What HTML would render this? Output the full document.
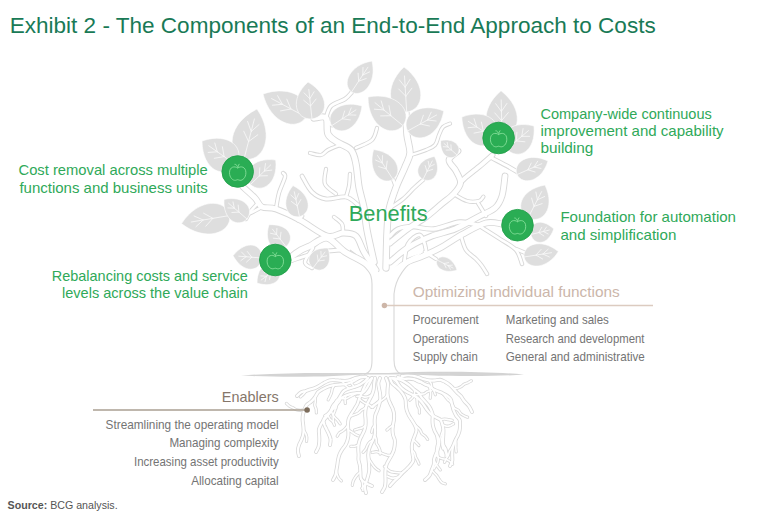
<!DOCTYPE html><html><head><meta charset="utf-8"><style>html,body{margin:0;padding:0;background:#fff}svg{display:block}</style></head><body><svg width="768" height="522" viewBox="0 0 768 522" font-family="Liberation Sans">
<rect width="768" height="522" fill="#fff"/>
<g fill="none" stroke="#d8d8d8" stroke-linecap="round" stroke-linejoin="round"><path d="M376,270C374.0,267.0 367.3,257.7 364,252C360.7,246.3 359.5,239.2 356,236C352.5,232.8 347.8,233.0 343,233C338.2,233.0 334.2,238.2 327,236C319.8,233.8 308.5,224.5 300,220C291.5,215.5 282.3,211.2 276,209C269.7,206.8 265.5,208.8 262,207C258.5,205.2 258.2,201.3 255,198C251.8,194.7 245.0,188.8 243,187" stroke-width="6.8"/><path d="M276,209C276.5,206.3 277.5,198.3 279,193C280.5,187.7 284.3,180.3 285,177C285.7,173.7 283.3,173.7 283,173" stroke-width="4.4"/><path d="M258,203C256.7,204.5 252.0,209.3 250,212C248.0,214.7 246.7,217.8 246,219" stroke-width="4.4"/><path d="M262,207C259.2,208.3 250.3,213.7 245,215C239.7,216.3 232.5,215.0 230,215" stroke-width="4.4"/><path d="M298,220L302,216" stroke-width="4.8"/><path d="M378,280C376.0,277.3 371.5,268.7 366,264C360.5,259.3 351.5,256.3 345,252C338.5,247.7 332.8,239.0 327,238C321.2,237.0 314.3,244.0 310,246C305.7,248.0 304.2,248.2 301,250C297.8,251.8 292.7,255.8 291,257" stroke-width="7.3"/><path d="M340,250C336.7,250.3 326.8,250.7 320,252C313.2,253.3 304.3,256.3 299,258C293.7,259.7 289.8,261.3 288,262" stroke-width="4.8"/><path d="M334,217C335.3,218.2 340.5,221.3 342,224C343.5,226.7 342.8,231.5 343,233" stroke-width="4.4"/><path d="M313,248C311.7,250.3 305.2,258.7 305,262C304.8,265.3 310.8,267.0 312,268" stroke-width="4.4"/><path d="M374,262C372.8,256.7 368.7,239.0 367,230C365.3,221.0 365.3,215.2 364,208C362.7,200.8 360.3,194.3 359,187C357.7,179.7 357.3,170.2 356,164C354.7,157.8 354.2,153.7 351,150C347.8,146.3 340.8,144.7 337,142C333.2,139.3 329.8,138.0 328,134C326.2,130.0 328.3,120.7 326,118C323.7,115.3 316.0,118.0 314,118" stroke-width="7.3"/><path d="M326,120L332,125" stroke-width="4.8"/><path d="M326,118C326.8,116.0 327.8,109.2 331,106C334.2,102.8 341.5,101.3 345,99C348.5,96.7 350.8,93.2 352,92" stroke-width="4.6"/><path d="M340,145C338.0,145.8 331.2,148.3 328,150C324.8,151.7 324.0,154.5 321,155C318.0,155.5 311.8,153.3 310,153" stroke-width="4.3"/><path d="M356,148C358.7,146.7 368.5,143.3 372,140C375.5,136.7 376.2,130.0 377,128" stroke-width="4.3"/><path d="M358,205C356.0,203.7 351.3,198.0 346,197C340.7,196.0 331.7,199.8 326,199C320.3,198.2 316.0,195.8 312,192C308.0,188.2 303.7,178.7 302,176" stroke-width="4.8"/><path d="M346,197C346.5,195.2 348.3,189.8 349,186C349.7,182.2 349.8,176.0 350,174" stroke-width="4.3"/><path d="M336,194C334.2,192.3 326.7,188.2 325,184C323.3,179.8 325.8,171.5 326,169" stroke-width="4.3"/><path d="M386,268C386.2,262.2 386.5,242.7 387,233C387.5,223.3 387.5,217.6 389,210C390.5,202.4 393.3,194.7 396,187.5C398.7,180.3 402.7,172.8 405,167C407.3,161.2 409.7,158.3 410,153C410.3,147.7 407.7,141.7 407,135C406.3,128.3 406.2,116.7 406,113" stroke-width="7.3"/><path d="M411,155C413.5,154.2 422.0,151.7 426,150C430.0,148.3 432.8,147.5 435,145C437.2,142.5 437.7,138.0 439,135C440.3,132.0 441.2,128.9 443,127C444.8,125.1 448.8,124.2 450,123.6" stroke-width="4.2"/><path d="M396,187L393,179" stroke-width="4.4"/><path d="M390,208C392.2,206.5 399.0,202.3 403,199C407.0,195.7 410.7,191.2 414,188C417.3,184.8 421.5,181.3 423,180" stroke-width="4.4"/><path d="M390,243C392.9,240.7 401.6,233.3 407.6,229C413.6,224.7 420.3,221.2 426,217C431.7,212.8 437.4,207.4 442,203.6C446.6,199.8 450.5,197.4 453.6,194C456.7,190.6 460.1,186.8 460.5,183C460.9,179.2 457.9,174.8 456,171C454.1,167.2 448.7,163.3 449,160C449.3,156.7 456.5,152.5 458,151" stroke-width="6.8"/><path d="M460,183C460.8,182.2 461.8,180.7 465,178C468.2,175.3 474.4,170.6 479,166.8C483.6,163.0 490.3,157.0 492.6,155" stroke-width="5.8"/><path d="M492,158C494.8,159.5 504.4,164.4 508.7,166.8C513.0,169.2 516.5,171.6 518,172.5" stroke-width="4.8"/><path d="M453.6,194C455.8,195.2 462.8,199.8 467,201C471.2,202.2 476.3,201.7 479,201C481.7,200.3 482.7,197.4 483.4,196.7" stroke-width="4.3"/><path d="M390,262C393.2,259.5 402.0,251.3 409,247C416.0,242.7 424.3,239.0 432,236C439.7,233.0 447.3,232.2 455,229C462.7,225.8 471.3,220.5 478,217C484.7,213.5 491.0,211.5 495,208C499.0,204.5 500.3,201.3 502,196C503.7,190.7 504.5,179.3 505,176" stroke-width="6.8"/><path d="M478,203L486,216" stroke-width="4.4"/><path d="M388,280C390.7,277.3 398.2,268.0 404,264C409.8,260.0 417.0,258.7 423,256C429.0,253.3 433.3,251.7 440,248C446.7,244.3 455.3,238.2 463,234C470.7,229.8 479.5,224.7 486,223C492.5,221.3 499.3,223.8 502,224" stroke-width="6.8"/><path d="M481,227C484.2,229.0 494.2,235.2 500,239C505.8,242.8 512.3,245.8 516,250C519.7,254.2 521.0,261.7 522,264" stroke-width="4.4"/><path d="M461,236C461.8,238.3 463.5,246.2 466,250C468.5,253.8 473.3,256.3 476,259C478.7,261.7 480.2,263.5 482,266C483.8,268.5 486.2,272.7 487,274" stroke-width="4.4"/><path d="M436,259L425,252" stroke-width="4.4"/><path d="M516,249L528,254" stroke-width="4.4"/><path d="M390,236C391.3,234.8 394.3,230.6 398,229C401.7,227.4 406.0,226.6 412,226.6C418.0,226.6 426.0,229.8 434,229C442.0,228.2 452.2,222.5 460,222C467.8,221.5 477.5,225.3 481,226" stroke-width="5.3"/><path d="M404,264C404.7,260.7 405.3,248.8 408,244C410.7,239.2 417.0,234.0 420,235C423.0,236.0 425.5,246.5 426,250C426.5,253.5 423.5,255.0 423,256" stroke-width="4.6"/></g>
<path d="M364,374.5 C370,373 372,369 372,360 L372,284 C372,272 364,260 350,250 C362,258 374,268 383,276 C392,268 410,256 428,250 C414,258 396,272 394,294 L394,360 C394,369 397,373 402,374.5 Z" fill="#fff"/>
<path d="M364,374.5 C370,373 372,369 372,360 L372,284 C372,272 364,260 350,250 M428,250 C414,258 396,272 394,294 L394,360 C394,369 397,373 402,374.5" fill="none" stroke="#d8d8d8" stroke-width="1.1"/>
<g fill="none" stroke="#fff" stroke-linecap="round" stroke-linejoin="round"><path d="M376,270C374.0,267.0 367.3,257.7 364,252C360.7,246.3 359.5,239.2 356,236C352.5,232.8 347.8,233.0 343,233C338.2,233.0 334.2,238.2 327,236C319.8,233.8 308.5,224.5 300,220C291.5,215.5 282.3,211.2 276,209C269.7,206.8 265.5,208.8 262,207C258.5,205.2 258.2,201.3 255,198C251.8,194.7 245.0,188.8 243,187" stroke-width="5.0"/><path d="M276,209C276.5,206.3 277.5,198.3 279,193C280.5,187.7 284.3,180.3 285,177C285.7,173.7 283.3,173.7 283,173" stroke-width="2.6"/><path d="M258,203C256.7,204.5 252.0,209.3 250,212C248.0,214.7 246.7,217.8 246,219" stroke-width="2.6"/><path d="M262,207C259.2,208.3 250.3,213.7 245,215C239.7,216.3 232.5,215.0 230,215" stroke-width="2.6"/><path d="M298,220L302,216" stroke-width="3.0"/><path d="M378,280C376.0,277.3 371.5,268.7 366,264C360.5,259.3 351.5,256.3 345,252C338.5,247.7 332.8,239.0 327,238C321.2,237.0 314.3,244.0 310,246C305.7,248.0 304.2,248.2 301,250C297.8,251.8 292.7,255.8 291,257" stroke-width="5.5"/><path d="M340,250C336.7,250.3 326.8,250.7 320,252C313.2,253.3 304.3,256.3 299,258C293.7,259.7 289.8,261.3 288,262" stroke-width="3.0"/><path d="M334,217C335.3,218.2 340.5,221.3 342,224C343.5,226.7 342.8,231.5 343,233" stroke-width="2.6"/><path d="M313,248C311.7,250.3 305.2,258.7 305,262C304.8,265.3 310.8,267.0 312,268" stroke-width="2.6"/><path d="M374,262C372.8,256.7 368.7,239.0 367,230C365.3,221.0 365.3,215.2 364,208C362.7,200.8 360.3,194.3 359,187C357.7,179.7 357.3,170.2 356,164C354.7,157.8 354.2,153.7 351,150C347.8,146.3 340.8,144.7 337,142C333.2,139.3 329.8,138.0 328,134C326.2,130.0 328.3,120.7 326,118C323.7,115.3 316.0,118.0 314,118" stroke-width="5.5"/><path d="M326,120L332,125" stroke-width="3.0"/><path d="M326,118C326.8,116.0 327.8,109.2 331,106C334.2,102.8 341.5,101.3 345,99C348.5,96.7 350.8,93.2 352,92" stroke-width="2.8"/><path d="M340,145C338.0,145.8 331.2,148.3 328,150C324.8,151.7 324.0,154.5 321,155C318.0,155.5 311.8,153.3 310,153" stroke-width="2.5"/><path d="M356,148C358.7,146.7 368.5,143.3 372,140C375.5,136.7 376.2,130.0 377,128" stroke-width="2.5"/><path d="M358,205C356.0,203.7 351.3,198.0 346,197C340.7,196.0 331.7,199.8 326,199C320.3,198.2 316.0,195.8 312,192C308.0,188.2 303.7,178.7 302,176" stroke-width="3.0"/><path d="M346,197C346.5,195.2 348.3,189.8 349,186C349.7,182.2 349.8,176.0 350,174" stroke-width="2.5"/><path d="M336,194C334.2,192.3 326.7,188.2 325,184C323.3,179.8 325.8,171.5 326,169" stroke-width="2.5"/><path d="M386,268C386.2,262.2 386.5,242.7 387,233C387.5,223.3 387.5,217.6 389,210C390.5,202.4 393.3,194.7 396,187.5C398.7,180.3 402.7,172.8 405,167C407.3,161.2 409.7,158.3 410,153C410.3,147.7 407.7,141.7 407,135C406.3,128.3 406.2,116.7 406,113" stroke-width="5.5"/><path d="M411,155C413.5,154.2 422.0,151.7 426,150C430.0,148.3 432.8,147.5 435,145C437.2,142.5 437.7,138.0 439,135C440.3,132.0 441.2,128.9 443,127C444.8,125.1 448.8,124.2 450,123.6" stroke-width="2.4"/><path d="M396,187L393,179" stroke-width="2.6"/><path d="M390,208C392.2,206.5 399.0,202.3 403,199C407.0,195.7 410.7,191.2 414,188C417.3,184.8 421.5,181.3 423,180" stroke-width="2.6"/><path d="M390,243C392.9,240.7 401.6,233.3 407.6,229C413.6,224.7 420.3,221.2 426,217C431.7,212.8 437.4,207.4 442,203.6C446.6,199.8 450.5,197.4 453.6,194C456.7,190.6 460.1,186.8 460.5,183C460.9,179.2 457.9,174.8 456,171C454.1,167.2 448.7,163.3 449,160C449.3,156.7 456.5,152.5 458,151" stroke-width="5.0"/><path d="M460,183C460.8,182.2 461.8,180.7 465,178C468.2,175.3 474.4,170.6 479,166.8C483.6,163.0 490.3,157.0 492.6,155" stroke-width="4.0"/><path d="M492,158C494.8,159.5 504.4,164.4 508.7,166.8C513.0,169.2 516.5,171.6 518,172.5" stroke-width="3.0"/><path d="M453.6,194C455.8,195.2 462.8,199.8 467,201C471.2,202.2 476.3,201.7 479,201C481.7,200.3 482.7,197.4 483.4,196.7" stroke-width="2.5"/><path d="M390,262C393.2,259.5 402.0,251.3 409,247C416.0,242.7 424.3,239.0 432,236C439.7,233.0 447.3,232.2 455,229C462.7,225.8 471.3,220.5 478,217C484.7,213.5 491.0,211.5 495,208C499.0,204.5 500.3,201.3 502,196C503.7,190.7 504.5,179.3 505,176" stroke-width="5.0"/><path d="M478,203L486,216" stroke-width="2.6"/><path d="M388,280C390.7,277.3 398.2,268.0 404,264C409.8,260.0 417.0,258.7 423,256C429.0,253.3 433.3,251.7 440,248C446.7,244.3 455.3,238.2 463,234C470.7,229.8 479.5,224.7 486,223C492.5,221.3 499.3,223.8 502,224" stroke-width="5.0"/><path d="M481,227C484.2,229.0 494.2,235.2 500,239C505.8,242.8 512.3,245.8 516,250C519.7,254.2 521.0,261.7 522,264" stroke-width="2.6"/><path d="M461,236C461.8,238.3 463.5,246.2 466,250C468.5,253.8 473.3,256.3 476,259C478.7,261.7 480.2,263.5 482,266C483.8,268.5 486.2,272.7 487,274" stroke-width="2.6"/><path d="M436,259L425,252" stroke-width="2.6"/><path d="M516,249L528,254" stroke-width="2.6"/><path d="M390,236C391.3,234.8 394.3,230.6 398,229C401.7,227.4 406.0,226.6 412,226.6C418.0,226.6 426.0,229.8 434,229C442.0,228.2 452.2,222.5 460,222C467.8,221.5 477.5,225.3 481,226" stroke-width="3.5"/><path d="M404,264C404.7,260.7 405.3,248.8 408,244C410.7,239.2 417.0,234.0 420,235C423.0,236.0 425.5,246.5 426,250C426.5,253.5 423.5,255.0 423,256" stroke-width="2.8"/></g>
<g fill="none" stroke="#d8d8d8" stroke-linecap="round" stroke-linejoin="round"><path d="M366,377C365.1,377.1 362.2,376.8 360.5,377.3C358.8,377.8 357.2,379.0 355.6,379.9C354.0,380.8 352.4,381.8 350.7,382.5C349.0,383.2 347.4,383.8 345.6,384.1C343.9,384.4 342.1,384.3 340.2,384.5C338.3,384.7 336.1,384.9 334.2,385.2C332.2,385.5 330.4,385.9 328.5,386.5C326.6,387.1 324.8,388.0 323.1,388.9C321.4,389.8 319.5,390.7 318.1,392.1C316.8,393.5 316.2,395.6 315.0,397.2C313.8,398.8 312.5,400.4 311.1,401.7C309.7,403.0 307.6,403.8 306.5,405.2C305.4,406.6 305.0,408.3 304.4,409.9C303.8,411.5 303.2,413.1 302.9,414.8C302.6,416.5 302.6,418.1 302.6,419.8C302.7,421.5 303.0,423.3 303.2,425.0C303.4,426.7 303.6,428.5 303.6,430.2C303.6,431.9 303.4,433.5 303.0,435.2C302.6,436.9 301.9,438.5 301.3,440.1C300.7,441.7 299.7,443.2 299.1,444.9C298.5,446.6 297.9,448.5 297.9,450.4C297.9,452.2 298.8,455.1 299.0,456.0" stroke-width="3.9"/><path d="M334.2,385.2C333.9,385.8 332.8,387.5 332.3,388.7C331.9,389.9 331.9,391.3 331.5,392.6C331.1,393.9 330.6,395.1 330.0,396.3C329.4,397.5 328.5,399.3 328.2,399.9" stroke-width="3.2"/><path d="M315.0,397.2C315.1,397.9 315.3,399.9 315.3,401.2C315.3,402.5 314.7,403.9 314.8,405.2C314.9,406.5 315.8,407.7 316.1,409.0C316.4,410.3 316.3,412.2 316.4,412.9" stroke-width="3.2"/><path d="M304.4,409.9C303.7,410.0 301.7,410.3 300.4,410.3C299.1,410.3 297.6,410.2 296.4,409.8C295.2,409.4 294.2,408.4 293.0,407.8C291.8,407.2 290.5,406.8 289.4,406.1C288.3,405.4 286.9,403.8 286.4,403.4" stroke-width="3.2"/><path d="M303.6,430.2C304.0,430.8 305.2,432.4 305.7,433.6C306.2,434.8 306.7,436.1 306.8,437.4C306.9,438.7 306.6,440.7 306.5,441.4" stroke-width="3.2"/><path d="M368,378C367.4,378.6 365.5,380.8 364.1,381.9C362.7,383.0 361.2,384.1 359.6,384.9C358.0,385.7 356.2,386.3 354.5,386.9C352.8,387.5 350.9,387.9 349.2,388.5C347.4,389.1 345.5,389.6 344.0,390.8C342.5,392.0 341.5,394.1 340.4,395.8C339.3,397.5 338.5,399.3 337.6,401.1C336.7,402.9 335.9,404.8 334.8,406.4C333.8,408.0 332.4,409.3 331.3,410.8C330.2,412.3 329.2,413.8 328.0,415.3C326.8,416.8 325.4,418.1 324.3,419.6C323.2,421.1 322.0,422.6 321.1,424.3C320.2,426.0 319.2,427.7 318.9,429.6C318.6,431.5 319.1,433.6 319.2,435.5C319.3,437.4 319.4,439.3 319.3,441.2C319.2,443.1 319.1,445.0 318.5,446.8C317.9,448.6 316.4,451.1 316.0,452.0" stroke-width="3.9"/><path d="M354.5,386.9C354.1,386.4 352.5,385.0 351.9,383.9C351.3,382.8 351.1,380.6 351.0,380.0" stroke-width="3.2"/><path d="M349.2,388.5C348.7,388.1 347.0,386.8 346.1,385.9C345.2,384.9 344.6,383.7 343.7,382.8C342.8,381.9 340.9,380.9 340.4,380.5" stroke-width="3.2"/><path d="M337.6,401.1C337.1,401.5 335.3,402.6 334.4,403.5C333.5,404.4 332.7,405.6 332.1,406.8C331.5,408.0 331.2,409.4 330.6,410.5C330.0,411.6 329.2,412.8 328.2,413.7C327.2,414.6 325.4,415.4 324.8,415.7" stroke-width="3.2"/><path d="M334.8,406.4C334.8,407.1 335.2,409.1 335.0,410.4C334.8,411.7 333.9,412.8 333.6,414.1C333.3,415.4 333.1,416.8 333.1,418.1C333.1,419.4 333.5,421.4 333.6,422.1" stroke-width="3.2"/><path d="M331.3,410.8C331.5,411.4 332.1,413.5 332.7,414.6C333.3,415.8 334.2,416.7 335.1,417.7C336.0,418.7 337.0,419.6 337.9,420.6C338.8,421.6 339.8,423.3 340.2,423.9" stroke-width="3.2"/><path d="M328.0,415.3C328.3,415.9 329.0,417.8 329.8,418.9C330.6,419.9 331.9,420.6 332.7,421.6C333.5,422.7 334.2,424.6 334.5,425.2" stroke-width="3.2"/><path d="M372,378C371.2,378.7 368.5,380.5 367.2,382.1C365.9,383.7 365.0,385.5 364.1,387.4C363.2,389.2 362.5,391.3 361.7,393.2C360.9,395.1 359.9,396.9 359.2,398.7C358.5,400.5 358.2,402.3 357.4,404.0C356.6,405.7 355.4,407.4 354.4,409.1C353.3,410.8 352.1,412.4 351.1,414.2C350.1,415.9 349.0,417.8 348.5,419.6C348.0,421.4 348.0,423.1 348.0,424.8C348.0,426.6 348.2,428.4 348.3,430.1C348.4,431.9 348.5,433.6 348.4,435.3C348.2,437.0 347.9,438.7 347.4,440.3C346.9,441.9 346.3,443.6 345.4,445.1C344.5,446.7 343.1,448.1 342.1,449.6C341.1,451.2 340.2,452.7 339.5,454.4C338.8,456.1 338.5,457.8 338.1,459.6C337.7,461.4 337.6,463.3 337.3,465.1C337.0,466.9 336.7,468.7 336.4,470.4C336.1,472.1 336.0,473.7 335.4,475.3C334.8,476.9 333.4,479.2 333.0,480.0" stroke-width="3.9"/><path d="M359.2,398.7C359.7,399.1 361.1,400.6 362.2,401.4C363.3,402.2 364.4,402.9 365.6,403.5C366.8,404.1 368.2,404.4 369.3,405.0C370.4,405.6 371.9,407.0 372.4,407.4" stroke-width="3.2"/><path d="M348.0,424.8C347.6,425.4 346.6,427.1 345.7,428.1C344.8,429.1 343.9,430.0 342.8,430.8C341.8,431.6 340.3,431.9 339.4,432.8C338.5,433.7 337.6,435.6 337.2,436.2" stroke-width="3.2"/><path d="M348.3,430.1C348.9,430.4 350.7,431.3 351.8,432.0C352.9,432.7 354.0,433.7 355.1,434.3C356.2,434.9 358.1,435.6 358.7,435.9" stroke-width="3.2"/><path d="M336.4,470.4C336.5,471.0 336.7,473.0 337.1,474.3C337.5,475.6 338.0,476.9 338.7,478.0C339.4,479.1 340.9,480.4 341.4,480.9" stroke-width="3.2"/><path d="M375,378C374.9,378.9 374.4,381.6 374.2,383.5C374.0,385.4 374.0,387.4 373.7,389.2C373.4,391.0 372.8,392.8 372.1,394.5C371.4,396.2 370.4,397.9 369.5,399.6C368.6,401.3 367.6,403.0 366.9,404.7C366.2,406.4 365.8,408.0 365.5,409.7C365.2,411.4 365.2,413.1 365.2,414.8C365.2,416.5 365.6,418.4 365.6,420.1C365.7,421.9 365.7,423.6 365.5,425.3C365.3,427.0 364.9,428.7 364.3,430.3C363.7,431.9 362.9,433.4 362.1,435.0C361.4,436.6 360.4,438.2 359.8,439.8C359.2,441.4 358.8,443.0 358.5,444.7C358.2,446.4 358.3,448.2 358.3,449.9C358.3,451.6 358.6,453.4 358.6,455.1C358.6,456.8 358.3,458.1 358.5,459.9C358.7,461.7 359.6,463.7 359.9,465.7C360.2,467.7 360.2,469.8 360.4,472.0C360.6,474.2 360.1,476.8 361.0,478.7C361.9,480.6 364.2,482.0 366.0,483.2C367.8,484.4 371.0,485.5 372.0,486.0" stroke-width="3.9"/><path d="M372.1,394.5C371.5,394.8 369.9,396.0 368.6,396.4C367.4,396.8 365.9,397.2 364.6,397.1C363.3,397.0 362.1,396.1 360.8,396.0C359.5,395.9 357.5,396.4 356.8,396.5" stroke-width="3.2"/><path d="M366.9,404.7C366.5,405.3 365.7,407.2 364.8,408.1C363.9,409.0 362.4,409.5 361.4,410.3C360.3,411.1 359.6,412.3 358.5,413.0C357.4,413.7 356.1,414.1 354.9,414.6C353.7,415.1 351.7,415.7 351.1,415.9" stroke-width="3.2"/><path d="M365.5,425.3C365.0,425.7 363.5,427.1 362.3,427.7C361.1,428.3 359.7,428.4 358.4,428.8C357.1,429.2 355.2,429.8 354.6,430.0" stroke-width="3.2"/><path d="M358.5,444.7C357.9,445.0 356.1,446.0 354.8,446.3C353.5,446.6 351.5,446.4 350.8,446.4" stroke-width="3.2"/><path d="M360.4,472.0C359.9,472.4 358.3,473.6 357.4,474.6C356.5,475.6 355.7,476.7 355.0,477.8C354.3,478.9 353.6,480.1 353.1,481.4C352.7,482.6 352.4,484.6 352.3,485.3" stroke-width="3.2"/><path d="M361.0,478.7C361.2,479.3 362.1,481.1 362.4,482.4C362.7,483.7 362.6,485.1 362.7,486.4C362.8,487.7 362.9,489.7 362.9,490.4" stroke-width="3.2"/><path d="M380,378C379.7,378.9 378.4,381.4 378.3,383.2C378.2,385.0 378.8,386.9 379.1,388.7C379.4,390.5 379.9,392.3 380.1,394.1C380.3,395.9 380.5,397.6 380.3,399.4C380.1,401.2 379.7,402.9 379.2,404.7C378.7,406.4 378.1,408.2 377.5,409.9C376.9,411.6 376.0,413.1 375.5,414.7C375.0,416.3 374.8,418.0 374.7,419.7C374.6,421.4 374.7,423.2 374.8,425.0C374.9,426.8 375.1,428.5 375.1,430.2C375.1,431.9 375.0,433.6 374.6,435.3C374.2,437.0 373.5,438.6 372.9,440.2C372.2,441.8 371.4,443.3 370.7,444.9C370.0,446.5 369.3,448.1 368.9,449.8C368.5,451.5 368.4,453.1 368.3,454.8C368.2,456.5 368.5,458.3 368.6,460.0C368.7,461.7 369.0,463.3 369.1,465.1C369.2,466.9 369.4,468.8 369.2,470.7C369.0,472.6 368.5,474.4 368.0,476.3C367.5,478.2 366.8,480.0 366.3,481.8C365.8,483.6 364.9,485.4 364.9,487.3C364.8,489.2 365.8,492.1 366.0,493.0" stroke-width="3.9"/><path d="M380.3,399.4C379.9,399.9 378.6,401.4 377.6,402.3C376.6,403.2 375.5,403.9 374.4,404.7C373.3,405.5 371.7,406.7 371.1,407.1" stroke-width="3.2"/><path d="M374.8,425.0C374.4,425.6 373.1,427.1 372.6,428.3C372.1,429.5 371.9,431.6 371.7,432.2" stroke-width="3.2"/><path d="M374.6,435.3C374.9,435.9 375.8,437.7 376.1,439.0C376.4,440.3 375.9,441.8 376.3,443.0C376.7,444.2 377.7,445.2 378.3,446.4C378.9,447.6 379.6,448.8 379.9,450.1C380.2,451.4 380.1,453.4 380.1,454.1" stroke-width="3.2"/><path d="M372.9,440.2C372.3,440.6 370.4,441.4 369.5,442.3C368.6,443.2 367.9,444.4 367.3,445.6C366.7,446.8 366.4,448.2 365.7,449.3C365.0,450.4 363.5,451.8 363.1,452.3" stroke-width="3.2"/><path d="M368.3,454.8C368.4,455.5 368.4,457.6 368.9,458.8C369.3,460.0 370.3,461.0 371.0,462.1C371.7,463.2 372.4,464.4 373.2,465.5C374.0,466.6 374.9,467.6 375.9,468.5C376.9,469.4 378.6,470.4 379.1,470.8" stroke-width="3.2"/><path d="M366.3,481.8C366.0,482.4 365.1,484.2 364.4,485.3C363.6,486.4 362.2,487.8 361.8,488.3" stroke-width="3.2"/><path d="M386,378C386.3,378.9 387.6,381.4 387.9,383.2C388.2,385.0 387.7,386.9 387.6,388.8C387.5,390.7 387.3,392.5 387.5,394.3C387.7,396.1 388.1,397.9 388.6,399.6C389.2,401.3 390.1,403.0 390.8,404.7C391.6,406.4 392.6,408.1 393.1,409.8C393.7,411.5 394.0,413.1 394.1,414.8C394.2,416.5 394.1,418.2 393.9,419.9C393.7,421.6 393.2,423.3 393.0,425.0C392.8,426.7 392.5,428.4 392.5,430.1C392.5,431.8 392.7,433.5 393.1,435.1C393.5,436.8 394.5,438.3 394.8,440.0C395.1,441.7 394.9,443.6 394.7,445.3C394.5,447.0 394.2,448.8 393.7,450.4C393.2,452.0 392.4,453.6 391.6,455.2C390.8,456.8 389.8,458.3 388.9,459.9C388.0,461.5 387.1,462.9 386.5,464.6C385.9,466.3 385.7,468.2 385.5,470.1C385.3,472.0 385.4,473.9 385.4,475.8C385.4,477.7 385.6,479.5 385.5,481.4C385.4,483.2 385.4,485.1 384.8,486.9C384.2,488.7 382.5,491.1 382.0,492.0" stroke-width="3.9"/><path d="M387.5,394.3C387.1,394.9 386.2,396.6 385.3,397.6C384.4,398.6 383.3,399.3 382.2,400.1C381.1,400.9 379.9,401.6 378.8,402.3C377.7,403.1 376.5,403.8 375.5,404.6C374.5,405.4 373.1,406.9 372.6,407.3" stroke-width="3.2"/><path d="M393.0,425.0C392.5,425.4 390.8,426.6 389.8,427.5C388.8,428.4 387.4,429.7 386.9,430.1" stroke-width="3.2"/><path d="M391.6,455.2C390.9,455.2 388.9,455.5 387.6,455.3C386.3,455.1 385.1,454.4 383.8,454.0C382.6,453.6 381.4,453.0 380.1,452.6C378.8,452.2 377.5,451.7 376.2,451.7C374.9,451.7 372.9,452.3 372.2,452.4" stroke-width="3.2"/><path d="M390,378C390.3,378.9 391.0,381.7 392.0,383.1C393.0,384.6 394.8,385.5 396.1,386.7C397.5,387.9 398.9,389.2 400.1,390.5C401.3,391.8 402.4,393.2 403.3,394.7C404.2,396.2 405.1,397.9 405.5,399.7C405.9,401.5 405.7,403.5 405.9,405.3C406.1,407.1 406.3,408.8 406.8,410.5C407.3,412.2 408.1,413.8 408.9,415.4C409.7,417.0 410.9,418.5 411.8,420.0C412.8,421.5 413.8,423.0 414.6,424.6C415.4,426.2 416.4,428.1 416.5,429.8C416.6,431.6 415.6,433.4 415.0,435.1C414.4,436.8 413.7,438.3 413.2,439.9C412.7,441.5 412.1,443.1 411.9,444.8C411.7,446.5 411.8,448.2 411.9,449.9C412.0,451.6 412.5,453.2 412.7,455.0C412.9,456.8 413.7,458.8 413.3,460.5C412.9,462.2 411.5,463.8 410.3,465.3C409.1,466.8 407.7,468.0 406.4,469.3C405.1,470.6 403.6,471.7 402.3,473.0C401.0,474.3 400.1,475.5 398.8,476.9C397.5,478.2 395.8,479.6 394.3,481.1C392.8,482.6 390.7,485.2 390.0,486.0" stroke-width="3.9"/><path d="M414.6,424.6C415.1,425.1 416.7,426.4 417.6,427.3C418.6,428.2 419.6,429.1 420.3,430.2C421.0,431.3 421.2,432.8 422.0,433.8C422.8,434.8 424.3,435.3 425.2,436.2C426.1,437.1 427.2,438.9 427.6,439.4" stroke-width="3.2"/><path d="M413.2,439.9C413.7,440.3 415.2,441.7 416.2,442.6C417.1,443.5 418.4,445.0 418.9,445.5" stroke-width="3.2"/><path d="M411.9,449.9C412.3,450.4 413.9,451.9 414.5,453.0C415.1,454.1 415.0,455.6 415.5,456.8C416.0,458.0 416.8,459.1 417.4,460.3C418.0,461.5 418.7,463.4 419.0,464.0" stroke-width="3.2"/><path d="M402.3,473.0C401.6,473.0 399.6,472.9 398.3,472.8C397.0,472.7 395.6,472.5 394.3,472.3C393.0,472.1 391.6,472.0 390.4,471.5C389.2,471.0 388.2,470.1 387.2,469.2C386.2,468.3 384.9,466.8 384.4,466.3" stroke-width="3.2"/><path d="M398.8,476.9C398.1,477.1 396.2,477.7 394.9,477.9C393.6,478.1 392.2,478.2 390.9,477.9C389.6,477.6 387.9,476.6 387.3,476.3" stroke-width="3.2"/><path d="M394,378C395.0,378.3 397.9,379.0 399.8,379.7C401.7,380.4 403.4,381.2 405.1,382.2C406.8,383.2 408.4,384.4 410.0,385.7C411.6,387.0 413.0,388.6 414.5,389.8C416.0,391.0 417.8,391.9 418.9,393.1C420.0,394.3 420.3,395.9 421.3,397.2C422.3,398.5 423.6,399.9 424.8,401.2C426.0,402.5 427.3,403.8 428.3,405.2C429.3,406.6 430.3,408.1 431.0,409.7C431.7,411.3 432.4,412.9 432.7,414.7C432.9,416.4 432.5,418.4 432.5,420.2C432.5,422.0 432.6,423.7 432.9,425.4C433.2,427.1 433.8,428.7 434.4,430.3C435.0,431.9 436.0,433.4 436.8,435.0C437.6,436.6 438.9,438.2 439.2,439.9C439.5,441.6 439.2,443.5 438.9,445.2C438.6,446.9 438.1,448.5 437.5,450.1C436.9,451.7 436.1,453.3 435.5,454.9C434.9,456.5 434.3,458.2 434.0,459.8C433.7,461.4 434.2,462.8 433.8,464.5C433.4,466.2 432.4,468.1 431.7,470.0C431.0,471.9 430.5,474.0 429.4,475.7C428.3,477.4 425.7,479.3 425.0,480.0" stroke-width="3.9"/><path d="M414.5,389.8C414.5,390.5 414.7,392.5 414.4,393.8C414.1,395.1 413.5,396.3 412.7,397.4C411.9,398.5 410.3,399.7 409.8,400.2" stroke-width="3.2"/><path d="M436.8,435.0C436.9,435.7 437.1,437.7 437.3,439.0C437.5,440.3 437.9,441.6 437.9,442.9C437.8,444.2 437.2,445.5 437.0,446.8C436.8,448.1 436.5,450.1 436.4,450.8" stroke-width="3.2"/><path d="M437.5,450.1C437.5,450.8 437.6,452.8 437.7,454.1C437.8,455.4 438.3,456.8 438.3,458.1C438.3,459.4 438.3,460.8 437.9,462.0C437.5,463.2 436.5,464.4 435.8,465.5C435.1,466.6 434.2,468.3 433.9,468.9" stroke-width="3.2"/><path d="M435.5,454.9C436.0,455.3 437.6,456.8 438.7,457.4C439.8,458.0 441.1,458.5 442.4,458.8C443.7,459.1 445.1,459.0 446.3,459.4C447.5,459.8 448.8,460.6 449.8,461.4C450.9,462.2 452.1,463.7 452.6,464.2" stroke-width="3.2"/><path d="M434.0,459.8C434.3,460.4 435.0,462.3 435.6,463.5C436.2,464.7 437.0,465.7 437.8,466.8C438.6,467.9 439.9,469.4 440.3,469.9" stroke-width="3.2"/><path d="M431.7,470.0C432.1,470.5 433.4,472.0 434.3,473.0C435.2,474.0 436.3,474.8 437.1,475.9C437.9,476.9 438.4,478.2 439.2,479.3C440.0,480.4 440.7,481.6 441.7,482.4C442.7,483.2 444.8,483.6 445.4,483.9" stroke-width="3.2"/><path d="M398,377C398.9,377.3 401.4,378.4 403.2,378.7C405.0,379.0 407.0,378.6 408.9,378.7C410.8,378.8 412.6,379.0 414.4,379.4C416.2,379.8 417.9,380.5 419.6,381.3C421.3,382.1 423.0,383.2 424.6,384.0C426.2,384.8 428.0,385.4 429.4,386.3C430.8,387.2 431.7,388.4 433.1,389.2C434.5,390.0 436.2,390.6 437.8,391.3C439.4,392.0 441.1,392.5 442.6,393.2C444.1,393.9 445.6,394.7 447.0,395.7C448.4,396.7 449.9,397.8 450.8,399.4C451.7,401.0 451.7,403.3 452.2,405.2C452.7,407.1 453.0,408.9 453.7,410.6C454.4,412.3 455.2,414.0 456.2,415.6C457.2,417.2 459.1,418.5 459.7,420.1C460.3,421.7 460.0,423.5 460.0,425.2C460.0,426.9 459.9,428.6 459.6,430.3C459.3,432.0 458.7,433.6 458.0,435.2C457.3,436.8 456.3,438.3 455.6,439.9C454.9,441.5 454.1,443.0 453.6,444.7C453.1,446.4 452.6,448.1 452.4,449.9C452.2,451.7 452.2,453.5 452.2,455.4C452.2,457.2 452.6,459.2 452.2,461.0C451.8,462.8 450.4,465.2 450.0,466.0" stroke-width="3.9"/><path d="M414.4,379.4C415.0,379.8 416.6,380.9 417.8,381.5C419.0,382.1 420.4,382.3 421.6,382.8C422.8,383.3 423.9,384.3 425.1,384.7C426.4,385.1 428.4,385.0 429.1,385.1" stroke-width="3.2"/><path d="M429.4,386.3C429.5,386.9 430.1,388.9 430.3,390.2C430.5,391.5 430.6,392.9 430.6,394.2C430.6,395.5 430.3,397.5 430.2,398.2" stroke-width="3.2"/><path d="M442.6,393.2C443.0,393.7 444.3,395.3 445.1,396.3C445.9,397.3 446.7,398.4 447.6,399.4C448.5,400.4 449.7,401.1 450.6,402.1C451.5,403.1 452.5,404.8 452.9,405.4" stroke-width="3.2"/><path d="M452.2,405.2C452.6,405.7 453.7,407.5 454.7,408.3C455.7,409.1 457.2,409.3 458.2,410.2C459.2,411.1 459.7,412.6 460.6,413.5C461.6,414.4 462.7,415.0 463.9,415.6C465.1,416.2 467.0,416.9 467.6,417.2" stroke-width="3.2"/><path d="M455.6,439.9C455.7,440.6 455.9,442.6 455.9,443.9C455.9,445.2 455.8,446.6 455.8,447.9C455.9,449.2 456.1,451.2 456.2,451.9" stroke-width="3.2"/><path d="M453.6,444.7C453.2,445.3 452.2,447.0 451.5,448.1C450.8,449.2 449.9,450.3 449.4,451.5C448.9,452.7 448.9,454.2 448.3,455.4C447.8,456.6 446.7,457.5 446.1,458.7C445.5,459.9 444.8,461.8 444.5,462.4" stroke-width="3.2"/><path d="M402,376C402.9,375.9 405.8,375.3 407.6,375.2C409.4,375.1 411.2,375.3 413.0,375.6C414.8,375.9 416.5,376.6 418.3,377.2C420.1,377.8 421.8,378.6 423.6,379.1C425.4,379.6 427.2,380.2 429.0,380.4C430.8,380.6 432.6,380.6 434.5,380.5C436.4,380.4 438.3,379.6 440.1,379.8C441.9,380.0 443.6,381.1 445.2,381.9C446.8,382.7 448.2,383.7 449.6,384.8C451.0,385.9 452.2,387.3 453.5,388.6C454.8,389.9 455.9,391.4 457.1,392.7C458.3,393.9 459.6,394.7 460.8,396.1C462.0,397.5 463.0,399.5 464.4,401.2C465.8,402.9 467.6,404.4 468.9,406.2C470.2,408.0 471.5,411.0 472.0,412.0" stroke-width="3.9"/><path d="M429.0,380.4C429.4,380.9 430.7,382.5 431.2,383.7C431.7,384.9 431.4,386.5 431.9,387.7C432.4,388.9 433.4,389.9 434.0,391.1C434.6,392.3 435.2,394.2 435.4,394.8" stroke-width="3.2"/><path d="M453.5,388.6C454.2,388.6 456.2,388.6 457.5,388.3C458.8,388.0 460.1,387.4 461.2,386.7C462.3,386.0 463.1,384.8 464.2,384.1C465.3,383.4 466.7,383.2 467.9,382.7C469.1,382.1 470.8,381.1 471.4,380.8" stroke-width="3.2"/><path d="M360,377C359.2,377.2 356.7,377.6 355.1,378.1C353.5,378.6 351.9,379.6 350.2,380.1C348.5,380.6 346.9,380.8 345.2,380.9C343.5,381.0 341.8,380.8 340.1,380.7C338.4,380.6 336.6,380.2 334.8,380.2C333.1,380.1 331.3,380.0 329.6,380.4C327.9,380.8 326.3,381.7 324.7,382.5C323.1,383.3 321.7,384.4 320.1,385.3C318.6,386.2 317.0,387.2 315.4,387.9C313.8,388.6 312.2,388.8 310.6,389.3C309.0,389.8 307.5,390.5 305.9,391.0C304.3,391.5 302.3,391.7 300.8,392.5C299.3,393.3 297.6,395.4 297.0,396.0" stroke-width="3.9"/><path d="M305.9,391.0C305.5,391.5 304.3,393.2 303.4,394.2C302.5,395.2 301.0,396.4 300.5,396.9" stroke-width="3.2"/><path d="M372,378C371.6,378.9 370.4,381.6 369.5,383.3C368.6,385.0 367.8,386.7 366.6,388.3C365.5,389.9 364.2,392.0 362.6,392.8C361.0,393.6 358.6,393.0 356.7,393.2C354.8,393.4 353.0,393.4 351.2,393.8C349.4,394.2 347.7,394.8 346.0,395.5C344.3,396.2 342.7,397.2 341.1,398.1C339.6,399.0 337.8,399.5 336.7,400.8C335.6,402.1 335.5,404.2 334.6,405.8C333.7,407.4 332.5,408.9 331.3,410.4C330.1,411.9 328.7,413.2 327.4,414.8C326.1,416.4 324.0,417.9 323.5,419.7C323.0,421.4 324.1,423.6 324.6,425.3C325.2,427.0 326.1,428.4 326.8,430.0C327.6,431.6 328.5,433.2 329.1,434.8C329.7,436.4 330.5,438.0 330.6,439.7C330.8,441.4 330.1,444.1 330.0,445.0" stroke-width="3.9"/><path d="M356.7,393.2C356.1,393.5 354.3,394.4 353.1,395.0C351.9,395.6 350.8,396.3 349.6,396.9C348.4,397.5 347.3,398.4 346.0,398.7C344.7,399.0 342.7,398.7 342.0,398.7" stroke-width="3.2"/><path d="M346.0,395.5C345.9,396.1 345.2,398.1 345.1,399.4C345.0,400.7 345.3,402.7 345.3,403.4" stroke-width="3.2"/><path d="M341.1,398.1C340.8,398.7 340.0,400.6 339.3,401.7C338.6,402.8 337.5,403.7 336.9,404.9C336.3,406.1 336.0,408.1 335.8,408.7" stroke-width="3.2"/><path d="M392,378C392.7,378.5 395.0,379.8 396.2,381.1C397.4,382.4 398.2,384.2 399.3,385.6C400.4,387.0 401.6,388.3 403.0,389.4C404.4,390.5 405.8,391.4 407.4,392.3C408.9,393.2 410.7,393.8 412.3,394.7C413.9,395.6 415.6,396.4 417.0,397.5C418.4,398.6 419.7,399.8 420.9,401.1C422.1,402.4 423.1,404.0 424.2,405.5C425.3,407.0 426.2,408.7 427.3,410.1C428.4,411.5 429.5,412.9 430.9,414.1C432.2,415.3 433.8,416.2 435.4,417.1C437.0,418.1 439.2,418.5 440.4,419.8C441.6,421.1 441.9,423.1 442.4,424.7C442.9,426.3 443.2,428.0 443.4,429.7C443.5,431.4 443.4,433.1 443.3,434.9C443.2,436.6 443.0,438.5 443.0,440.2C443.0,441.9 443.0,443.6 443.4,445.3C443.8,447.0 444.5,448.6 445.1,450.2C445.7,451.8 446.7,454.2 447.0,455.0" stroke-width="3.9"/><path d="M412.3,394.7C413.0,394.7 415.0,394.8 416.3,394.7C417.6,394.6 419.0,394.5 420.3,394.3C421.6,394.1 423.0,394.2 424.2,393.7C425.4,393.2 426.4,392.0 427.6,391.5C428.8,391.0 430.9,390.8 431.5,390.7" stroke-width="3.2"/><path d="M417.0,397.5C417.0,398.2 417.0,400.2 417.1,401.5C417.2,402.8 417.2,404.2 417.6,405.5C418.0,406.8 419.0,407.8 419.3,409.1C419.6,410.4 419.4,412.4 419.4,413.1" stroke-width="3.2"/><path d="M440.4,419.8C441.0,419.7 443.0,419.0 444.3,419.0C445.6,419.0 447.0,419.4 448.3,419.6C449.6,419.8 451.6,420.2 452.2,420.3" stroke-width="3.2"/><path d="M442.4,424.7C443.0,424.9 444.8,425.9 446.1,426.1C447.4,426.3 448.9,426.1 450.1,425.7C451.4,425.3 453.0,424.0 453.6,423.7" stroke-width="3.2"/><path d="M443.4,429.7C443.1,430.3 442.2,432.1 441.8,433.4C441.4,434.7 440.9,436.0 440.9,437.3C440.9,438.6 441.7,439.9 441.9,441.2C442.1,442.5 441.8,443.9 442.0,445.2C442.2,446.5 442.9,448.4 443.1,449.0" stroke-width="3.2"/><path d="M443.3,434.9C443.1,435.5 442.3,437.5 442.2,438.8C442.1,440.1 442.6,441.4 442.8,442.7C443.0,444.0 443.0,445.4 443.4,446.7C443.8,447.9 444.7,449.0 445.3,450.2C445.9,451.4 446.6,453.3 446.8,453.9" stroke-width="3.2"/><path d="M443.4,445.3C443.8,445.8 445.3,447.3 445.8,448.5C446.3,449.7 446.4,451.2 446.5,452.5C446.6,453.8 446.2,455.8 446.1,456.4" stroke-width="3.2"/></g>
<g fill="none" stroke="#fff" stroke-linecap="round" stroke-linejoin="round"><path d="M366,377C365.1,377.1 362.2,376.8 360.5,377.3C358.8,377.8 357.2,379.0 355.6,379.9C354.0,380.8 352.4,381.8 350.7,382.5C349.0,383.2 347.4,383.8 345.6,384.1C343.9,384.4 342.1,384.3 340.2,384.5C338.3,384.7 336.1,384.9 334.2,385.2C332.2,385.5 330.4,385.9 328.5,386.5C326.6,387.1 324.8,388.0 323.1,388.9C321.4,389.8 319.5,390.7 318.1,392.1C316.8,393.5 316.2,395.6 315.0,397.2C313.8,398.8 312.5,400.4 311.1,401.7C309.7,403.0 307.6,403.8 306.5,405.2C305.4,406.6 305.0,408.3 304.4,409.9C303.8,411.5 303.2,413.1 302.9,414.8C302.6,416.5 302.6,418.1 302.6,419.8C302.7,421.5 303.0,423.3 303.2,425.0C303.4,426.7 303.6,428.5 303.6,430.2C303.6,431.9 303.4,433.5 303.0,435.2C302.6,436.9 301.9,438.5 301.3,440.1C300.7,441.7 299.7,443.2 299.1,444.9C298.5,446.6 297.9,448.5 297.9,450.4C297.9,452.2 298.8,455.1 299.0,456.0" stroke-width="2.3"/><path d="M334.2,385.2C333.9,385.8 332.8,387.5 332.3,388.7C331.9,389.9 331.9,391.3 331.5,392.6C331.1,393.9 330.6,395.1 330.0,396.3C329.4,397.5 328.5,399.3 328.2,399.9" stroke-width="1.6"/><path d="M315.0,397.2C315.1,397.9 315.3,399.9 315.3,401.2C315.3,402.5 314.7,403.9 314.8,405.2C314.9,406.5 315.8,407.7 316.1,409.0C316.4,410.3 316.3,412.2 316.4,412.9" stroke-width="1.6"/><path d="M304.4,409.9C303.7,410.0 301.7,410.3 300.4,410.3C299.1,410.3 297.6,410.2 296.4,409.8C295.2,409.4 294.2,408.4 293.0,407.8C291.8,407.2 290.5,406.8 289.4,406.1C288.3,405.4 286.9,403.8 286.4,403.4" stroke-width="1.6"/><path d="M303.6,430.2C304.0,430.8 305.2,432.4 305.7,433.6C306.2,434.8 306.7,436.1 306.8,437.4C306.9,438.7 306.6,440.7 306.5,441.4" stroke-width="1.6"/><path d="M368,378C367.4,378.6 365.5,380.8 364.1,381.9C362.7,383.0 361.2,384.1 359.6,384.9C358.0,385.7 356.2,386.3 354.5,386.9C352.8,387.5 350.9,387.9 349.2,388.5C347.4,389.1 345.5,389.6 344.0,390.8C342.5,392.0 341.5,394.1 340.4,395.8C339.3,397.5 338.5,399.3 337.6,401.1C336.7,402.9 335.9,404.8 334.8,406.4C333.8,408.0 332.4,409.3 331.3,410.8C330.2,412.3 329.2,413.8 328.0,415.3C326.8,416.8 325.4,418.1 324.3,419.6C323.2,421.1 322.0,422.6 321.1,424.3C320.2,426.0 319.2,427.7 318.9,429.6C318.6,431.5 319.1,433.6 319.2,435.5C319.3,437.4 319.4,439.3 319.3,441.2C319.2,443.1 319.1,445.0 318.5,446.8C317.9,448.6 316.4,451.1 316.0,452.0" stroke-width="2.3"/><path d="M354.5,386.9C354.1,386.4 352.5,385.0 351.9,383.9C351.3,382.8 351.1,380.6 351.0,380.0" stroke-width="1.6"/><path d="M349.2,388.5C348.7,388.1 347.0,386.8 346.1,385.9C345.2,384.9 344.6,383.7 343.7,382.8C342.8,381.9 340.9,380.9 340.4,380.5" stroke-width="1.6"/><path d="M337.6,401.1C337.1,401.5 335.3,402.6 334.4,403.5C333.5,404.4 332.7,405.6 332.1,406.8C331.5,408.0 331.2,409.4 330.6,410.5C330.0,411.6 329.2,412.8 328.2,413.7C327.2,414.6 325.4,415.4 324.8,415.7" stroke-width="1.6"/><path d="M334.8,406.4C334.8,407.1 335.2,409.1 335.0,410.4C334.8,411.7 333.9,412.8 333.6,414.1C333.3,415.4 333.1,416.8 333.1,418.1C333.1,419.4 333.5,421.4 333.6,422.1" stroke-width="1.6"/><path d="M331.3,410.8C331.5,411.4 332.1,413.5 332.7,414.6C333.3,415.8 334.2,416.7 335.1,417.7C336.0,418.7 337.0,419.6 337.9,420.6C338.8,421.6 339.8,423.3 340.2,423.9" stroke-width="1.6"/><path d="M328.0,415.3C328.3,415.9 329.0,417.8 329.8,418.9C330.6,419.9 331.9,420.6 332.7,421.6C333.5,422.7 334.2,424.6 334.5,425.2" stroke-width="1.6"/><path d="M372,378C371.2,378.7 368.5,380.5 367.2,382.1C365.9,383.7 365.0,385.5 364.1,387.4C363.2,389.2 362.5,391.3 361.7,393.2C360.9,395.1 359.9,396.9 359.2,398.7C358.5,400.5 358.2,402.3 357.4,404.0C356.6,405.7 355.4,407.4 354.4,409.1C353.3,410.8 352.1,412.4 351.1,414.2C350.1,415.9 349.0,417.8 348.5,419.6C348.0,421.4 348.0,423.1 348.0,424.8C348.0,426.6 348.2,428.4 348.3,430.1C348.4,431.9 348.5,433.6 348.4,435.3C348.2,437.0 347.9,438.7 347.4,440.3C346.9,441.9 346.3,443.6 345.4,445.1C344.5,446.7 343.1,448.1 342.1,449.6C341.1,451.2 340.2,452.7 339.5,454.4C338.8,456.1 338.5,457.8 338.1,459.6C337.7,461.4 337.6,463.3 337.3,465.1C337.0,466.9 336.7,468.7 336.4,470.4C336.1,472.1 336.0,473.7 335.4,475.3C334.8,476.9 333.4,479.2 333.0,480.0" stroke-width="2.3"/><path d="M359.2,398.7C359.7,399.1 361.1,400.6 362.2,401.4C363.3,402.2 364.4,402.9 365.6,403.5C366.8,404.1 368.2,404.4 369.3,405.0C370.4,405.6 371.9,407.0 372.4,407.4" stroke-width="1.6"/><path d="M348.0,424.8C347.6,425.4 346.6,427.1 345.7,428.1C344.8,429.1 343.9,430.0 342.8,430.8C341.8,431.6 340.3,431.9 339.4,432.8C338.5,433.7 337.6,435.6 337.2,436.2" stroke-width="1.6"/><path d="M348.3,430.1C348.9,430.4 350.7,431.3 351.8,432.0C352.9,432.7 354.0,433.7 355.1,434.3C356.2,434.9 358.1,435.6 358.7,435.9" stroke-width="1.6"/><path d="M336.4,470.4C336.5,471.0 336.7,473.0 337.1,474.3C337.5,475.6 338.0,476.9 338.7,478.0C339.4,479.1 340.9,480.4 341.4,480.9" stroke-width="1.6"/><path d="M375,378C374.9,378.9 374.4,381.6 374.2,383.5C374.0,385.4 374.0,387.4 373.7,389.2C373.4,391.0 372.8,392.8 372.1,394.5C371.4,396.2 370.4,397.9 369.5,399.6C368.6,401.3 367.6,403.0 366.9,404.7C366.2,406.4 365.8,408.0 365.5,409.7C365.2,411.4 365.2,413.1 365.2,414.8C365.2,416.5 365.6,418.4 365.6,420.1C365.7,421.9 365.7,423.6 365.5,425.3C365.3,427.0 364.9,428.7 364.3,430.3C363.7,431.9 362.9,433.4 362.1,435.0C361.4,436.6 360.4,438.2 359.8,439.8C359.2,441.4 358.8,443.0 358.5,444.7C358.2,446.4 358.3,448.2 358.3,449.9C358.3,451.6 358.6,453.4 358.6,455.1C358.6,456.8 358.3,458.1 358.5,459.9C358.7,461.7 359.6,463.7 359.9,465.7C360.2,467.7 360.2,469.8 360.4,472.0C360.6,474.2 360.1,476.8 361.0,478.7C361.9,480.6 364.2,482.0 366.0,483.2C367.8,484.4 371.0,485.5 372.0,486.0" stroke-width="2.3"/><path d="M372.1,394.5C371.5,394.8 369.9,396.0 368.6,396.4C367.4,396.8 365.9,397.2 364.6,397.1C363.3,397.0 362.1,396.1 360.8,396.0C359.5,395.9 357.5,396.4 356.8,396.5" stroke-width="1.6"/><path d="M366.9,404.7C366.5,405.3 365.7,407.2 364.8,408.1C363.9,409.0 362.4,409.5 361.4,410.3C360.3,411.1 359.6,412.3 358.5,413.0C357.4,413.7 356.1,414.1 354.9,414.6C353.7,415.1 351.7,415.7 351.1,415.9" stroke-width="1.6"/><path d="M365.5,425.3C365.0,425.7 363.5,427.1 362.3,427.7C361.1,428.3 359.7,428.4 358.4,428.8C357.1,429.2 355.2,429.8 354.6,430.0" stroke-width="1.6"/><path d="M358.5,444.7C357.9,445.0 356.1,446.0 354.8,446.3C353.5,446.6 351.5,446.4 350.8,446.4" stroke-width="1.6"/><path d="M360.4,472.0C359.9,472.4 358.3,473.6 357.4,474.6C356.5,475.6 355.7,476.7 355.0,477.8C354.3,478.9 353.6,480.1 353.1,481.4C352.7,482.6 352.4,484.6 352.3,485.3" stroke-width="1.6"/><path d="M361.0,478.7C361.2,479.3 362.1,481.1 362.4,482.4C362.7,483.7 362.6,485.1 362.7,486.4C362.8,487.7 362.9,489.7 362.9,490.4" stroke-width="1.6"/><path d="M380,378C379.7,378.9 378.4,381.4 378.3,383.2C378.2,385.0 378.8,386.9 379.1,388.7C379.4,390.5 379.9,392.3 380.1,394.1C380.3,395.9 380.5,397.6 380.3,399.4C380.1,401.2 379.7,402.9 379.2,404.7C378.7,406.4 378.1,408.2 377.5,409.9C376.9,411.6 376.0,413.1 375.5,414.7C375.0,416.3 374.8,418.0 374.7,419.7C374.6,421.4 374.7,423.2 374.8,425.0C374.9,426.8 375.1,428.5 375.1,430.2C375.1,431.9 375.0,433.6 374.6,435.3C374.2,437.0 373.5,438.6 372.9,440.2C372.2,441.8 371.4,443.3 370.7,444.9C370.0,446.5 369.3,448.1 368.9,449.8C368.5,451.5 368.4,453.1 368.3,454.8C368.2,456.5 368.5,458.3 368.6,460.0C368.7,461.7 369.0,463.3 369.1,465.1C369.2,466.9 369.4,468.8 369.2,470.7C369.0,472.6 368.5,474.4 368.0,476.3C367.5,478.2 366.8,480.0 366.3,481.8C365.8,483.6 364.9,485.4 364.9,487.3C364.8,489.2 365.8,492.1 366.0,493.0" stroke-width="2.3"/><path d="M380.3,399.4C379.9,399.9 378.6,401.4 377.6,402.3C376.6,403.2 375.5,403.9 374.4,404.7C373.3,405.5 371.7,406.7 371.1,407.1" stroke-width="1.6"/><path d="M374.8,425.0C374.4,425.6 373.1,427.1 372.6,428.3C372.1,429.5 371.9,431.6 371.7,432.2" stroke-width="1.6"/><path d="M374.6,435.3C374.9,435.9 375.8,437.7 376.1,439.0C376.4,440.3 375.9,441.8 376.3,443.0C376.7,444.2 377.7,445.2 378.3,446.4C378.9,447.6 379.6,448.8 379.9,450.1C380.2,451.4 380.1,453.4 380.1,454.1" stroke-width="1.6"/><path d="M372.9,440.2C372.3,440.6 370.4,441.4 369.5,442.3C368.6,443.2 367.9,444.4 367.3,445.6C366.7,446.8 366.4,448.2 365.7,449.3C365.0,450.4 363.5,451.8 363.1,452.3" stroke-width="1.6"/><path d="M368.3,454.8C368.4,455.5 368.4,457.6 368.9,458.8C369.3,460.0 370.3,461.0 371.0,462.1C371.7,463.2 372.4,464.4 373.2,465.5C374.0,466.6 374.9,467.6 375.9,468.5C376.9,469.4 378.6,470.4 379.1,470.8" stroke-width="1.6"/><path d="M366.3,481.8C366.0,482.4 365.1,484.2 364.4,485.3C363.6,486.4 362.2,487.8 361.8,488.3" stroke-width="1.6"/><path d="M386,378C386.3,378.9 387.6,381.4 387.9,383.2C388.2,385.0 387.7,386.9 387.6,388.8C387.5,390.7 387.3,392.5 387.5,394.3C387.7,396.1 388.1,397.9 388.6,399.6C389.2,401.3 390.1,403.0 390.8,404.7C391.6,406.4 392.6,408.1 393.1,409.8C393.7,411.5 394.0,413.1 394.1,414.8C394.2,416.5 394.1,418.2 393.9,419.9C393.7,421.6 393.2,423.3 393.0,425.0C392.8,426.7 392.5,428.4 392.5,430.1C392.5,431.8 392.7,433.5 393.1,435.1C393.5,436.8 394.5,438.3 394.8,440.0C395.1,441.7 394.9,443.6 394.7,445.3C394.5,447.0 394.2,448.8 393.7,450.4C393.2,452.0 392.4,453.6 391.6,455.2C390.8,456.8 389.8,458.3 388.9,459.9C388.0,461.5 387.1,462.9 386.5,464.6C385.9,466.3 385.7,468.2 385.5,470.1C385.3,472.0 385.4,473.9 385.4,475.8C385.4,477.7 385.6,479.5 385.5,481.4C385.4,483.2 385.4,485.1 384.8,486.9C384.2,488.7 382.5,491.1 382.0,492.0" stroke-width="2.3"/><path d="M387.5,394.3C387.1,394.9 386.2,396.6 385.3,397.6C384.4,398.6 383.3,399.3 382.2,400.1C381.1,400.9 379.9,401.6 378.8,402.3C377.7,403.1 376.5,403.8 375.5,404.6C374.5,405.4 373.1,406.9 372.6,407.3" stroke-width="1.6"/><path d="M393.0,425.0C392.5,425.4 390.8,426.6 389.8,427.5C388.8,428.4 387.4,429.7 386.9,430.1" stroke-width="1.6"/><path d="M391.6,455.2C390.9,455.2 388.9,455.5 387.6,455.3C386.3,455.1 385.1,454.4 383.8,454.0C382.6,453.6 381.4,453.0 380.1,452.6C378.8,452.2 377.5,451.7 376.2,451.7C374.9,451.7 372.9,452.3 372.2,452.4" stroke-width="1.6"/><path d="M390,378C390.3,378.9 391.0,381.7 392.0,383.1C393.0,384.6 394.8,385.5 396.1,386.7C397.5,387.9 398.9,389.2 400.1,390.5C401.3,391.8 402.4,393.2 403.3,394.7C404.2,396.2 405.1,397.9 405.5,399.7C405.9,401.5 405.7,403.5 405.9,405.3C406.1,407.1 406.3,408.8 406.8,410.5C407.3,412.2 408.1,413.8 408.9,415.4C409.7,417.0 410.9,418.5 411.8,420.0C412.8,421.5 413.8,423.0 414.6,424.6C415.4,426.2 416.4,428.1 416.5,429.8C416.6,431.6 415.6,433.4 415.0,435.1C414.4,436.8 413.7,438.3 413.2,439.9C412.7,441.5 412.1,443.1 411.9,444.8C411.7,446.5 411.8,448.2 411.9,449.9C412.0,451.6 412.5,453.2 412.7,455.0C412.9,456.8 413.7,458.8 413.3,460.5C412.9,462.2 411.5,463.8 410.3,465.3C409.1,466.8 407.7,468.0 406.4,469.3C405.1,470.6 403.6,471.7 402.3,473.0C401.0,474.3 400.1,475.5 398.8,476.9C397.5,478.2 395.8,479.6 394.3,481.1C392.8,482.6 390.7,485.2 390.0,486.0" stroke-width="2.3"/><path d="M414.6,424.6C415.1,425.1 416.7,426.4 417.6,427.3C418.6,428.2 419.6,429.1 420.3,430.2C421.0,431.3 421.2,432.8 422.0,433.8C422.8,434.8 424.3,435.3 425.2,436.2C426.1,437.1 427.2,438.9 427.6,439.4" stroke-width="1.6"/><path d="M413.2,439.9C413.7,440.3 415.2,441.7 416.2,442.6C417.1,443.5 418.4,445.0 418.9,445.5" stroke-width="1.6"/><path d="M411.9,449.9C412.3,450.4 413.9,451.9 414.5,453.0C415.1,454.1 415.0,455.6 415.5,456.8C416.0,458.0 416.8,459.1 417.4,460.3C418.0,461.5 418.7,463.4 419.0,464.0" stroke-width="1.6"/><path d="M402.3,473.0C401.6,473.0 399.6,472.9 398.3,472.8C397.0,472.7 395.6,472.5 394.3,472.3C393.0,472.1 391.6,472.0 390.4,471.5C389.2,471.0 388.2,470.1 387.2,469.2C386.2,468.3 384.9,466.8 384.4,466.3" stroke-width="1.6"/><path d="M398.8,476.9C398.1,477.1 396.2,477.7 394.9,477.9C393.6,478.1 392.2,478.2 390.9,477.9C389.6,477.6 387.9,476.6 387.3,476.3" stroke-width="1.6"/><path d="M394,378C395.0,378.3 397.9,379.0 399.8,379.7C401.7,380.4 403.4,381.2 405.1,382.2C406.8,383.2 408.4,384.4 410.0,385.7C411.6,387.0 413.0,388.6 414.5,389.8C416.0,391.0 417.8,391.9 418.9,393.1C420.0,394.3 420.3,395.9 421.3,397.2C422.3,398.5 423.6,399.9 424.8,401.2C426.0,402.5 427.3,403.8 428.3,405.2C429.3,406.6 430.3,408.1 431.0,409.7C431.7,411.3 432.4,412.9 432.7,414.7C432.9,416.4 432.5,418.4 432.5,420.2C432.5,422.0 432.6,423.7 432.9,425.4C433.2,427.1 433.8,428.7 434.4,430.3C435.0,431.9 436.0,433.4 436.8,435.0C437.6,436.6 438.9,438.2 439.2,439.9C439.5,441.6 439.2,443.5 438.9,445.2C438.6,446.9 438.1,448.5 437.5,450.1C436.9,451.7 436.1,453.3 435.5,454.9C434.9,456.5 434.3,458.2 434.0,459.8C433.7,461.4 434.2,462.8 433.8,464.5C433.4,466.2 432.4,468.1 431.7,470.0C431.0,471.9 430.5,474.0 429.4,475.7C428.3,477.4 425.7,479.3 425.0,480.0" stroke-width="2.3"/><path d="M414.5,389.8C414.5,390.5 414.7,392.5 414.4,393.8C414.1,395.1 413.5,396.3 412.7,397.4C411.9,398.5 410.3,399.7 409.8,400.2" stroke-width="1.6"/><path d="M436.8,435.0C436.9,435.7 437.1,437.7 437.3,439.0C437.5,440.3 437.9,441.6 437.9,442.9C437.8,444.2 437.2,445.5 437.0,446.8C436.8,448.1 436.5,450.1 436.4,450.8" stroke-width="1.6"/><path d="M437.5,450.1C437.5,450.8 437.6,452.8 437.7,454.1C437.8,455.4 438.3,456.8 438.3,458.1C438.3,459.4 438.3,460.8 437.9,462.0C437.5,463.2 436.5,464.4 435.8,465.5C435.1,466.6 434.2,468.3 433.9,468.9" stroke-width="1.6"/><path d="M435.5,454.9C436.0,455.3 437.6,456.8 438.7,457.4C439.8,458.0 441.1,458.5 442.4,458.8C443.7,459.1 445.1,459.0 446.3,459.4C447.5,459.8 448.8,460.6 449.8,461.4C450.9,462.2 452.1,463.7 452.6,464.2" stroke-width="1.6"/><path d="M434.0,459.8C434.3,460.4 435.0,462.3 435.6,463.5C436.2,464.7 437.0,465.7 437.8,466.8C438.6,467.9 439.9,469.4 440.3,469.9" stroke-width="1.6"/><path d="M431.7,470.0C432.1,470.5 433.4,472.0 434.3,473.0C435.2,474.0 436.3,474.8 437.1,475.9C437.9,476.9 438.4,478.2 439.2,479.3C440.0,480.4 440.7,481.6 441.7,482.4C442.7,483.2 444.8,483.6 445.4,483.9" stroke-width="1.6"/><path d="M398,377C398.9,377.3 401.4,378.4 403.2,378.7C405.0,379.0 407.0,378.6 408.9,378.7C410.8,378.8 412.6,379.0 414.4,379.4C416.2,379.8 417.9,380.5 419.6,381.3C421.3,382.1 423.0,383.2 424.6,384.0C426.2,384.8 428.0,385.4 429.4,386.3C430.8,387.2 431.7,388.4 433.1,389.2C434.5,390.0 436.2,390.6 437.8,391.3C439.4,392.0 441.1,392.5 442.6,393.2C444.1,393.9 445.6,394.7 447.0,395.7C448.4,396.7 449.9,397.8 450.8,399.4C451.7,401.0 451.7,403.3 452.2,405.2C452.7,407.1 453.0,408.9 453.7,410.6C454.4,412.3 455.2,414.0 456.2,415.6C457.2,417.2 459.1,418.5 459.7,420.1C460.3,421.7 460.0,423.5 460.0,425.2C460.0,426.9 459.9,428.6 459.6,430.3C459.3,432.0 458.7,433.6 458.0,435.2C457.3,436.8 456.3,438.3 455.6,439.9C454.9,441.5 454.1,443.0 453.6,444.7C453.1,446.4 452.6,448.1 452.4,449.9C452.2,451.7 452.2,453.5 452.2,455.4C452.2,457.2 452.6,459.2 452.2,461.0C451.8,462.8 450.4,465.2 450.0,466.0" stroke-width="2.3"/><path d="M414.4,379.4C415.0,379.8 416.6,380.9 417.8,381.5C419.0,382.1 420.4,382.3 421.6,382.8C422.8,383.3 423.9,384.3 425.1,384.7C426.4,385.1 428.4,385.0 429.1,385.1" stroke-width="1.6"/><path d="M429.4,386.3C429.5,386.9 430.1,388.9 430.3,390.2C430.5,391.5 430.6,392.9 430.6,394.2C430.6,395.5 430.3,397.5 430.2,398.2" stroke-width="1.6"/><path d="M442.6,393.2C443.0,393.7 444.3,395.3 445.1,396.3C445.9,397.3 446.7,398.4 447.6,399.4C448.5,400.4 449.7,401.1 450.6,402.1C451.5,403.1 452.5,404.8 452.9,405.4" stroke-width="1.6"/><path d="M452.2,405.2C452.6,405.7 453.7,407.5 454.7,408.3C455.7,409.1 457.2,409.3 458.2,410.2C459.2,411.1 459.7,412.6 460.6,413.5C461.6,414.4 462.7,415.0 463.9,415.6C465.1,416.2 467.0,416.9 467.6,417.2" stroke-width="1.6"/><path d="M455.6,439.9C455.7,440.6 455.9,442.6 455.9,443.9C455.9,445.2 455.8,446.6 455.8,447.9C455.9,449.2 456.1,451.2 456.2,451.9" stroke-width="1.6"/><path d="M453.6,444.7C453.2,445.3 452.2,447.0 451.5,448.1C450.8,449.2 449.9,450.3 449.4,451.5C448.9,452.7 448.9,454.2 448.3,455.4C447.8,456.6 446.7,457.5 446.1,458.7C445.5,459.9 444.8,461.8 444.5,462.4" stroke-width="1.6"/><path d="M402,376C402.9,375.9 405.8,375.3 407.6,375.2C409.4,375.1 411.2,375.3 413.0,375.6C414.8,375.9 416.5,376.6 418.3,377.2C420.1,377.8 421.8,378.6 423.6,379.1C425.4,379.6 427.2,380.2 429.0,380.4C430.8,380.6 432.6,380.6 434.5,380.5C436.4,380.4 438.3,379.6 440.1,379.8C441.9,380.0 443.6,381.1 445.2,381.9C446.8,382.7 448.2,383.7 449.6,384.8C451.0,385.9 452.2,387.3 453.5,388.6C454.8,389.9 455.9,391.4 457.1,392.7C458.3,393.9 459.6,394.7 460.8,396.1C462.0,397.5 463.0,399.5 464.4,401.2C465.8,402.9 467.6,404.4 468.9,406.2C470.2,408.0 471.5,411.0 472.0,412.0" stroke-width="2.3"/><path d="M429.0,380.4C429.4,380.9 430.7,382.5 431.2,383.7C431.7,384.9 431.4,386.5 431.9,387.7C432.4,388.9 433.4,389.9 434.0,391.1C434.6,392.3 435.2,394.2 435.4,394.8" stroke-width="1.6"/><path d="M453.5,388.6C454.2,388.6 456.2,388.6 457.5,388.3C458.8,388.0 460.1,387.4 461.2,386.7C462.3,386.0 463.1,384.8 464.2,384.1C465.3,383.4 466.7,383.2 467.9,382.7C469.1,382.1 470.8,381.1 471.4,380.8" stroke-width="1.6"/><path d="M360,377C359.2,377.2 356.7,377.6 355.1,378.1C353.5,378.6 351.9,379.6 350.2,380.1C348.5,380.6 346.9,380.8 345.2,380.9C343.5,381.0 341.8,380.8 340.1,380.7C338.4,380.6 336.6,380.2 334.8,380.2C333.1,380.1 331.3,380.0 329.6,380.4C327.9,380.8 326.3,381.7 324.7,382.5C323.1,383.3 321.7,384.4 320.1,385.3C318.6,386.2 317.0,387.2 315.4,387.9C313.8,388.6 312.2,388.8 310.6,389.3C309.0,389.8 307.5,390.5 305.9,391.0C304.3,391.5 302.3,391.7 300.8,392.5C299.3,393.3 297.6,395.4 297.0,396.0" stroke-width="2.3"/><path d="M305.9,391.0C305.5,391.5 304.3,393.2 303.4,394.2C302.5,395.2 301.0,396.4 300.5,396.9" stroke-width="1.6"/><path d="M372,378C371.6,378.9 370.4,381.6 369.5,383.3C368.6,385.0 367.8,386.7 366.6,388.3C365.5,389.9 364.2,392.0 362.6,392.8C361.0,393.6 358.6,393.0 356.7,393.2C354.8,393.4 353.0,393.4 351.2,393.8C349.4,394.2 347.7,394.8 346.0,395.5C344.3,396.2 342.7,397.2 341.1,398.1C339.6,399.0 337.8,399.5 336.7,400.8C335.6,402.1 335.5,404.2 334.6,405.8C333.7,407.4 332.5,408.9 331.3,410.4C330.1,411.9 328.7,413.2 327.4,414.8C326.1,416.4 324.0,417.9 323.5,419.7C323.0,421.4 324.1,423.6 324.6,425.3C325.2,427.0 326.1,428.4 326.8,430.0C327.6,431.6 328.5,433.2 329.1,434.8C329.7,436.4 330.5,438.0 330.6,439.7C330.8,441.4 330.1,444.1 330.0,445.0" stroke-width="2.3"/><path d="M356.7,393.2C356.1,393.5 354.3,394.4 353.1,395.0C351.9,395.6 350.8,396.3 349.6,396.9C348.4,397.5 347.3,398.4 346.0,398.7C344.7,399.0 342.7,398.7 342.0,398.7" stroke-width="1.6"/><path d="M346.0,395.5C345.9,396.1 345.2,398.1 345.1,399.4C345.0,400.7 345.3,402.7 345.3,403.4" stroke-width="1.6"/><path d="M341.1,398.1C340.8,398.7 340.0,400.6 339.3,401.7C338.6,402.8 337.5,403.7 336.9,404.9C336.3,406.1 336.0,408.1 335.8,408.7" stroke-width="1.6"/><path d="M392,378C392.7,378.5 395.0,379.8 396.2,381.1C397.4,382.4 398.2,384.2 399.3,385.6C400.4,387.0 401.6,388.3 403.0,389.4C404.4,390.5 405.8,391.4 407.4,392.3C408.9,393.2 410.7,393.8 412.3,394.7C413.9,395.6 415.6,396.4 417.0,397.5C418.4,398.6 419.7,399.8 420.9,401.1C422.1,402.4 423.1,404.0 424.2,405.5C425.3,407.0 426.2,408.7 427.3,410.1C428.4,411.5 429.5,412.9 430.9,414.1C432.2,415.3 433.8,416.2 435.4,417.1C437.0,418.1 439.2,418.5 440.4,419.8C441.6,421.1 441.9,423.1 442.4,424.7C442.9,426.3 443.2,428.0 443.4,429.7C443.5,431.4 443.4,433.1 443.3,434.9C443.2,436.6 443.0,438.5 443.0,440.2C443.0,441.9 443.0,443.6 443.4,445.3C443.8,447.0 444.5,448.6 445.1,450.2C445.7,451.8 446.7,454.2 447.0,455.0" stroke-width="2.3"/><path d="M412.3,394.7C413.0,394.7 415.0,394.8 416.3,394.7C417.6,394.6 419.0,394.5 420.3,394.3C421.6,394.1 423.0,394.2 424.2,393.7C425.4,393.2 426.4,392.0 427.6,391.5C428.8,391.0 430.9,390.8 431.5,390.7" stroke-width="1.6"/><path d="M417.0,397.5C417.0,398.2 417.0,400.2 417.1,401.5C417.2,402.8 417.2,404.2 417.6,405.5C418.0,406.8 419.0,407.8 419.3,409.1C419.6,410.4 419.4,412.4 419.4,413.1" stroke-width="1.6"/><path d="M440.4,419.8C441.0,419.7 443.0,419.0 444.3,419.0C445.6,419.0 447.0,419.4 448.3,419.6C449.6,419.8 451.6,420.2 452.2,420.3" stroke-width="1.6"/><path d="M442.4,424.7C443.0,424.9 444.8,425.9 446.1,426.1C447.4,426.3 448.9,426.1 450.1,425.7C451.4,425.3 453.0,424.0 453.6,423.7" stroke-width="1.6"/><path d="M443.4,429.7C443.1,430.3 442.2,432.1 441.8,433.4C441.4,434.7 440.9,436.0 440.9,437.3C440.9,438.6 441.7,439.9 441.9,441.2C442.1,442.5 441.8,443.9 442.0,445.2C442.2,446.5 442.9,448.4 443.1,449.0" stroke-width="1.6"/><path d="M443.3,434.9C443.1,435.5 442.3,437.5 442.2,438.8C442.1,440.1 442.6,441.4 442.8,442.7C443.0,444.0 443.0,445.4 443.4,446.7C443.8,447.9 444.7,449.0 445.3,450.2C445.9,451.4 446.6,453.3 446.8,453.9" stroke-width="1.6"/><path d="M443.4,445.3C443.8,445.8 445.3,447.3 445.8,448.5C446.3,449.7 446.4,451.2 446.5,452.5C446.6,453.8 446.2,455.8 446.1,456.4" stroke-width="1.6"/></g>
<path d="M241,375.5 C280,372.5 330,372.5 372,373.5 C330,377.5 280,377.5 241,375.5Z" fill="#d3d3d3"/>
<path d="M388,373 C430,371 490,371.5 524,374.5 C490,377 430,376.5 388,373Z" fill="#d3d3d3"/>
<path d="M320,374 L450,373.5" stroke="#d6d6d6" stroke-width="1.4"/>
<path d="M244.0,159.0C225.7,153.2 227.3,123.7 257.0,109.0C275.8,136.3 262.8,162.8 244.0,159.0Z" fill="#dedede" stroke="#fff" stroke-width="0.6"/><path d="M244.0,159.0L254.4,119.0 M248.6,141.5L243.7,131.2 M248.6,141.5L257.8,134.8 M251.2,131.5L247.6,121.5 M251.2,131.5L259.1,124.5" stroke="#f8f8f8" stroke-width="0.85" fill="none" stroke-linecap="round"/>
<path d="M236.0,165.0C224.6,179.7 202.3,170.9 202.0,141.0C230.3,131.2 246.0,149.4 236.0,165.0Z" fill="#dedede" stroke="#fff" stroke-width="0.6"/><path d="M236.0,165.0L208.8,145.8 M224.1,156.6L214.3,158.3 M224.1,156.6L222.4,146.8 M217.3,151.8L208.2,152.4 M217.3,151.8L214.8,143.0" stroke="#f8f8f8" stroke-width="0.85" fill="none" stroke-linecap="round"/>
<path d="M306.0,117.0C296.9,131.9 270.3,123.8 263.0,94.0C291.8,83.6 313.3,101.2 306.0,117.0Z" fill="#dedede" stroke="#fff" stroke-width="0.6"/><path d="M306.0,117.0L271.6,98.6 M290.9,109.0L280.5,110.9 M290.9,109.0L286.8,99.2 M282.4,104.3L272.5,105.2 M282.4,104.3L277.6,95.7" stroke="#f8f8f8" stroke-width="0.85" fill="none" stroke-linecap="round"/>
<path d="M312.0,119.0C295.8,120.0 288.5,99.8 308.0,82.0C330.8,95.3 328.1,116.5 312.0,119.0Z" fill="#dedede" stroke="#fff" stroke-width="0.6"/><path d="M312.0,119.0L308.8,89.4 M310.6,106.0L303.8,100.4 M310.6,106.0L316.0,99.1 M309.8,98.7L304.1,92.9 M309.8,98.7L314.1,91.8" stroke="#f8f8f8" stroke-width="0.85" fill="none" stroke-linecap="round"/>
<path d="M351.5,92.0C341.3,84.3 349.4,64.8 372.0,61.0C377.3,83.2 362.6,98.4 351.5,92.0Z" fill="#dedede" stroke="#fff" stroke-width="0.6"/><path d="M351.5,92.0L367.9,67.2 M358.7,81.2L358.1,73.2 M358.7,81.2L366.2,78.5 M362.8,75.0L363.0,67.5 M362.8,75.0L369.6,71.9" stroke="#f8f8f8" stroke-width="0.85" fill="none" stroke-linecap="round"/>
<path d="M406.7,112.0C389.3,112.1 382.4,87.3 404.0,67.0C427.9,84.5 424.0,110.1 406.7,112.0Z" fill="#dedede" stroke="#fff" stroke-width="0.6"/><path d="M406.7,112.0L404.5,76.0 M405.8,96.2L398.7,89.0 M405.8,96.2L411.9,88.2 M405.2,87.2L399.4,79.9 M405.2,87.2L410.1,79.3" stroke="#f8f8f8" stroke-width="0.85" fill="none" stroke-linecap="round"/>
<path d="M403.0,125.7C391.3,138.6 368.2,126.7 368.0,97.0C397.2,91.4 413.3,111.7 403.0,125.7Z" fill="#dedede" stroke="#fff" stroke-width="0.6"/><path d="M403.0,125.7L375.0,102.7 M390.8,115.7L380.6,115.9 M390.8,115.7L389.0,105.7 M383.8,109.9L374.4,109.2 M383.8,109.9L381.2,100.9" stroke="#f8f8f8" stroke-width="0.85" fill="none" stroke-linecap="round"/>
<path d="M407.6,131.0C400.5,116.4 418.3,100.8 443.8,111.0C438.9,138.0 416.2,144.8 407.6,131.0Z" fill="#dedede" stroke="#fff" stroke-width="0.6"/><path d="M407.6,131.0L436.6,115.0 M420.3,124.0L423.4,115.2 M420.3,124.0L429.4,126.0 M427.5,120.0L431.2,112.2 M427.5,120.0L436.1,121.0" stroke="#f8f8f8" stroke-width="0.85" fill="none" stroke-linecap="round"/>
<path d="M331.7,125.7C324.7,113.6 339.3,99.0 362.0,106.0C359.2,129.6 339.9,137.0 331.7,125.7Z" fill="#dedede" stroke="#fff" stroke-width="0.6"/><path d="M331.7,125.7L355.9,109.9 M342.3,118.8L344.6,111.0 M342.3,118.8L350.3,119.9 M348.4,114.9L351.2,107.9 M348.4,114.9L355.9,115.1" stroke="#f8f8f8" stroke-width="0.85" fill="none" stroke-linecap="round"/>
<path d="M502.0,136.7C484.0,136.2 477.9,110.5 501.0,90.7C525.0,109.5 520.0,135.4 502.0,136.7Z" fill="#dedede" stroke="#fff" stroke-width="0.6"/><path d="M502.0,136.7L501.2,99.9 M501.6,120.6L494.7,112.9 M501.6,120.6L508.3,112.6 M501.4,111.4L495.7,103.7 M501.4,111.4L506.9,103.5" stroke="#f8f8f8" stroke-width="0.85" fill="none" stroke-linecap="round"/>
<path d="M495.0,139.0C484.7,153.1 463.1,145.2 461.8,117.0C488.3,107.2 503.9,124.1 495.0,139.0Z" fill="#dedede" stroke="#fff" stroke-width="0.6"/><path d="M495.0,139.0L468.4,121.4 M483.4,131.3L474.1,133.1 M483.4,131.3L481.4,122.1 M476.7,126.9L468.1,127.7 M476.7,126.9L474.1,118.7" stroke="#f8f8f8" stroke-width="0.85" fill="none" stroke-linecap="round"/>
<path d="M506.7,149.0C496.8,136.1 508.8,119.4 534.0,126.0C536.2,151.9 517.7,161.0 506.7,149.0Z" fill="#dedede" stroke="#fff" stroke-width="0.6"/><path d="M506.7,149.0L528.5,130.6 M516.3,140.9L516.9,132.3 M516.3,140.9L524.9,141.8 M521.7,136.3L523.1,128.6 M521.7,136.3L529.6,136.3" stroke="#f8f8f8" stroke-width="0.85" fill="none" stroke-linecap="round"/>
<path d="M517.0,174.6C512.5,162.6 528.3,151.4 548.0,161.0C541.7,182.0 522.7,186.0 517.0,174.6Z" fill="#dedede" stroke="#fff" stroke-width="0.6"/><path d="M517.0,174.6L541.8,163.7 M527.9,169.8L531.2,163.1 M527.9,169.8L535.1,172.0 M534.0,167.1L537.7,161.2 M534.0,167.1L540.9,168.4" stroke="#f8f8f8" stroke-width="0.85" fill="none" stroke-linecap="round"/>
<path d="M250.5,184.5C240.9,173.6 251.9,156.7 275.7,160.0C278.4,183.9 261.1,194.4 250.5,184.5Z" fill="#dedede" stroke="#fff" stroke-width="0.6"/><path d="M250.5,184.5L270.7,164.9 M259.3,175.9L259.8,167.8 M259.3,175.9L267.4,175.7 M264.4,171.0L265.5,163.6 M264.4,171.0L271.8,170.1" stroke="#f8f8f8" stroke-width="0.85" fill="none" stroke-linecap="round"/>
<path d="M229.8,215.5C231.7,232.8 205.6,242.7 181.5,223.6C198.0,197.7 226.0,198.5 229.8,215.5Z" fill="#dedede" stroke="#fff" stroke-width="0.6"/><path d="M229.8,215.5L191.2,222.0 M212.9,218.3L205.8,226.2 M212.9,218.3L203.6,213.2 M203.2,220.0L195.9,226.7 M203.2,220.0L194.1,216.0" stroke="#f8f8f8" stroke-width="0.85" fill="none" stroke-linecap="round"/>
<path d="M247.0,219.0C238.3,228.3 222.8,220.4 224.0,199.4C244.5,194.9 254.8,208.9 247.0,219.0Z" fill="#dedede" stroke="#fff" stroke-width="0.6"/><path d="M247.0,219.0L228.6,203.3 M238.9,212.1L231.9,212.5 M238.9,212.1L238.2,205.1 M234.3,208.2L227.9,207.9 M234.3,208.2L233.0,201.9" stroke="#f8f8f8" stroke-width="0.85" fill="none" stroke-linecap="round"/>
<path d="M299.5,216.7C286.9,218.7 279.4,202.1 293.0,185.6C312.1,195.2 311.9,213.5 299.5,216.7Z" fill="#dedede" stroke="#fff" stroke-width="0.6"/><path d="M299.5,216.7L294.3,191.8 M297.2,205.8L291.4,201.5 M297.2,205.8L300.9,199.5 M295.9,199.6L290.9,195.1 M295.9,199.6L298.7,193.5" stroke="#f8f8f8" stroke-width="0.85" fill="none" stroke-linecap="round"/>
<path d="M286.0,246.6C275.6,254.0 262.9,244.2 269.0,224.7C289.3,223.6 295.7,238.3 286.0,246.6Z" fill="#dedede" stroke="#fff" stroke-width="0.6"/><path d="M286.0,246.6L272.4,229.1 M280.1,238.9L273.3,238.2 M280.1,238.9L281.0,232.2 M276.6,234.6L270.6,233.3 M276.6,234.6L276.9,228.4" stroke="#f8f8f8" stroke-width="0.85" fill="none" stroke-linecap="round"/>
<path d="M262.0,258.0C260.3,271.8 243.7,274.8 233.0,255.7C246.6,238.5 262.5,244.1 262.0,258.0Z" fill="#dedede" stroke="#fff" stroke-width="0.6"/><path d="M262.0,258.0L238.8,256.2 M251.8,257.2L246.5,262.1 M251.8,257.2L247.3,251.5 M246.1,256.7L240.8,260.7 M246.1,256.7L241.5,252.0" stroke="#f8f8f8" stroke-width="0.85" fill="none" stroke-linecap="round"/>
<path d="M313.0,268.0C304.0,260.6 309.5,247.3 328.0,248.0C333.9,265.5 322.6,274.6 313.0,268.0Z" fill="#dedede" stroke="#fff" stroke-width="0.6"/><path d="M313.0,268.0L325.0,252.0 M318.2,261.0L317.3,255.0 M318.2,261.0L324.3,260.2 M321.2,257.0L320.9,251.4 M321.2,257.0L326.7,255.8" stroke="#f8f8f8" stroke-width="0.85" fill="none" stroke-linecap="round"/>
<path d="M393.0,179.4C381.4,186.1 367.1,171.6 373.6,149.5C396.4,152.5 403.8,171.5 393.0,179.4Z" fill="#dedede" stroke="#fff" stroke-width="0.6"/><path d="M393.0,179.4L377.5,155.5 M386.2,168.9L378.7,166.6 M386.2,168.9L387.2,161.1 M382.3,163.0L375.6,160.1 M382.3,163.0L382.5,155.6" stroke="#f8f8f8" stroke-width="0.85" fill="none" stroke-linecap="round"/>
<path d="M423.0,179.4C413.4,174.0 416.8,159.6 434.5,156.4C442.6,172.5 433.1,183.9 423.0,179.4Z" fill="#dedede" stroke="#fff" stroke-width="0.6"/><path d="M423.0,179.4L432.2,161.0 M427.0,171.3L425.2,165.6 M427.0,171.3L432.7,169.3 M429.3,166.8L428.2,161.3 M429.3,166.8L434.3,164.4" stroke="#f8f8f8" stroke-width="0.85" fill="none" stroke-linecap="round"/>
<path d="M457.0,155.0C450.5,161.6 439.5,155.7 440.7,140.5C455.6,137.5 462.8,147.8 457.0,155.0Z" fill="#dedede" stroke="#fff" stroke-width="0.6"/><path d="M457.0,155.0L444.0,143.4 M451.3,149.9L446.2,150.1 M451.3,149.9L450.9,144.8 M448.0,147.0L443.3,146.7 M448.0,147.0L447.2,142.4" stroke="#f8f8f8" stroke-width="0.85" fill="none" stroke-linecap="round"/>
<path d="M528.0,218.0C514.4,210.2 519.6,189.5 545.0,185.0C556.1,208.3 542.3,224.5 528.0,218.0Z" fill="#dedede" stroke="#fff" stroke-width="0.6"/><path d="M528.0,218.0L541.6,191.6 M534.0,206.4L531.6,198.1 M534.0,206.4L542.1,203.6 M537.4,199.8L535.9,192.0 M537.4,199.8L544.6,196.5" stroke="#f8f8f8" stroke-width="0.85" fill="none" stroke-linecap="round"/>
<path d="M530.8,234.5C528.6,223.1 540.6,216.5 553.8,229.0C547.7,246.1 534.0,245.7 530.8,234.5Z" fill="#dedede" stroke="#fff" stroke-width="0.6"/><path d="M530.8,234.5L549.2,230.1 M538.8,232.6L541.7,227.4 M538.8,232.6L543.8,235.9 M543.4,231.5L546.5,227.0 M543.4,231.5L548.2,234.0" stroke="#f8f8f8" stroke-width="0.85" fill="none" stroke-linecap="round"/>
<path d="M524.0,257.0C522.7,244.3 541.4,237.4 558.4,251.6C546.5,270.4 526.7,269.5 524.0,257.0Z" fill="#dedede" stroke="#fff" stroke-width="0.6"/><path d="M524.0,257.0L551.5,252.7 M536.0,255.1L541.1,249.4 M536.0,255.1L542.6,259.0 M542.9,254.0L548.2,249.2 M542.9,254.0L549.4,257.0" stroke="#f8f8f8" stroke-width="0.85" fill="none" stroke-linecap="round"/>
<path d="M437.0,260.0C440.8,253.5 453.0,257.0 457.0,270.0C444.2,274.6 434.0,266.9 437.0,260.0Z" fill="#dedede" stroke="#fff" stroke-width="0.6"/><path d="M437.0,260.0L453.0,268.0 M444.0,263.5L448.7,262.6 M444.0,263.5L446.1,267.8 M448.0,265.5L452.4,265.1 M448.0,265.5L450.4,269.3" stroke="#f8f8f8" stroke-width="0.85" fill="none" stroke-linecap="round"/>
<path d="M278.0,268.0C284.3,277.7 274.7,289.1 257.0,283.0C257.0,264.3 270.8,258.9 278.0,268.0Z" fill="#dedede" stroke="#fff" stroke-width="0.6"/><path d="M278.0,268.0L261.2,280.0 M270.6,273.2L269.6,279.4 M270.6,273.2L264.5,272.2 M266.4,276.2L265.0,281.7 M266.4,276.2L260.8,275.9" stroke="#f8f8f8" stroke-width="0.85" fill="none" stroke-linecap="round"/>
<circle cx="237.7" cy="171.5" r="15.8" fill="#2aad54" stroke="#23a04b" stroke-width="0.9"/><g transform="translate(237.7,172.3)" fill="none" stroke="#90e4a2" stroke-width="0.8"><path d="M0,-4.2 C-3,-6.6 -8.2,-5.6 -8.2,0.4 C-8.2,5.4 -4.8,8.4 -2.2,8 C-1,7.8 -0.6,7.4 0,7.4 C0.6,7.4 1,7.8 2.2,8 C4.8,8.4 8.2,5.4 8.2,0.4 C8.2,-5.6 3,-6.6 0,-4.2Z"/><path d="M0,-4.2 C0.2,-5.8 0.6,-7 1.6,-8.4 M-0.2,-5.6 C-1,-7.6 -2.4,-8.2 -3.2,-8"/></g>
<circle cx="275.3" cy="260" r="15.8" fill="#2aad54" stroke="#23a04b" stroke-width="0.9"/><g transform="translate(275.3,260.8)" fill="none" stroke="#90e4a2" stroke-width="0.8"><path d="M0,-4.2 C-3,-6.6 -8.2,-5.6 -8.2,0.4 C-8.2,5.4 -4.8,8.4 -2.2,8 C-1,7.8 -0.6,7.4 0,7.4 C0.6,7.4 1,7.8 2.2,8 C4.8,8.4 8.2,5.4 8.2,0.4 C8.2,-5.6 3,-6.6 0,-4.2Z"/><path d="M0,-4.2 C0.2,-5.8 0.6,-7 1.6,-8.4 M-0.2,-5.6 C-1,-7.6 -2.4,-8.2 -3.2,-8"/></g>
<circle cx="498.6" cy="138" r="15.8" fill="#2aad54" stroke="#23a04b" stroke-width="0.9"/><g transform="translate(498.6,138.8)" fill="none" stroke="#90e4a2" stroke-width="0.8"><path d="M0,-4.2 C-3,-6.6 -8.2,-5.6 -8.2,0.4 C-8.2,5.4 -4.8,8.4 -2.2,8 C-1,7.8 -0.6,7.4 0,7.4 C0.6,7.4 1,7.8 2.2,8 C4.8,8.4 8.2,5.4 8.2,0.4 C8.2,-5.6 3,-6.6 0,-4.2Z"/><path d="M0,-4.2 C0.2,-5.8 0.6,-7 1.6,-8.4 M-0.2,-5.6 C-1,-7.6 -2.4,-8.2 -3.2,-8"/></g>
<circle cx="517.5" cy="225.2" r="15.8" fill="#2aad54" stroke="#23a04b" stroke-width="0.9"/><g transform="translate(517.5,226.0)" fill="none" stroke="#90e4a2" stroke-width="0.8"><path d="M0,-4.2 C-3,-6.6 -8.2,-5.6 -8.2,0.4 C-8.2,5.4 -4.8,8.4 -2.2,8 C-1,7.8 -0.6,7.4 0,7.4 C0.6,7.4 1,7.8 2.2,8 C4.8,8.4 8.2,5.4 8.2,0.4 C8.2,-5.6 3,-6.6 0,-4.2Z"/><path d="M0,-4.2 C0.2,-5.8 0.6,-7 1.6,-8.4 M-0.2,-5.6 C-1,-7.6 -2.4,-8.2 -3.2,-8"/></g>
<line x1="384.4" y1="305.5" x2="653" y2="305.5" stroke="#dccbc0" stroke-width="1.3"/><circle cx="384.4" cy="305.5" r="2.7" fill="#cdb6a8"/>
<line x1="93" y1="410" x2="307" y2="410" stroke="#aa9f92" stroke-width="1.4"/><circle cx="307.1" cy="410" r="2.8" fill="#7d6d5c"/>
<text x="9.7" y="33.3" font-size="22" fill="#197a56" text-anchor="start" textLength="646" lengthAdjust="spacingAndGlyphs">Exhibit 2 - The Components of an End-to-End Approach to Costs</text>
<text x="207.8" y="175.2" font-size="15" fill="#2fa959" text-anchor="end" textLength="189.3" lengthAdjust="spacingAndGlyphs">Cost removal across multiple</text>
<text x="207.8" y="192.8" font-size="15" fill="#2fa959" text-anchor="end" textLength="188.4" lengthAdjust="spacingAndGlyphs">functions and business units</text>
<text x="247.9" y="280.5" font-size="15" fill="#2fa959" text-anchor="end" textLength="196.1" lengthAdjust="spacingAndGlyphs">Rebalancing costs and service</text>
<text x="247.9" y="298.3" font-size="15" fill="#2fa959" text-anchor="end" textLength="185.9" lengthAdjust="spacingAndGlyphs">levels across the value chain</text>
<text x="540.4" y="118.6" font-size="15" fill="#2fa959" text-anchor="start" textLength="171.4" lengthAdjust="spacingAndGlyphs">Company-wide continuous</text>
<text x="540.4" y="136.4" font-size="15" fill="#2fa959" text-anchor="start" textLength="183.2" lengthAdjust="spacingAndGlyphs">improvement and capability</text>
<text x="540.4" y="153.3" font-size="15" fill="#2fa959" text-anchor="start" textLength="53" lengthAdjust="spacingAndGlyphs">building</text>
<text x="560.4" y="222.4" font-size="15" fill="#2fa959" text-anchor="start" textLength="175.6" lengthAdjust="spacingAndGlyphs">Foundation for automation</text>
<text x="560.4" y="240" font-size="15" fill="#2fa959" text-anchor="start" textLength="115.9" lengthAdjust="spacingAndGlyphs">and simplification</text>
<text x="348.7" y="220.8" font-size="21.8" fill="#2fa959" text-anchor="start" textLength="78.9" lengthAdjust="spacingAndGlyphs">Benefits</text>
<text x="412.8" y="297" font-size="14.8" fill="#cbb6aa" text-anchor="start" textLength="207" lengthAdjust="spacingAndGlyphs">Optimizing individual functions</text>
<text x="412.8" y="323.8" font-size="12.2" fill="#747474" text-anchor="start" textLength="66" lengthAdjust="spacingAndGlyphs">Procurement</text>
<text x="505.8" y="323.8" font-size="12.2" fill="#747474" text-anchor="start" textLength="103" lengthAdjust="spacingAndGlyphs">Marketing and sales</text>
<text x="412.8" y="342.55" font-size="12.2" fill="#747474" text-anchor="start" textLength="55.9" lengthAdjust="spacingAndGlyphs">Operations</text>
<text x="505.8" y="342.55" font-size="12.2" fill="#747474" text-anchor="start" textLength="138.6" lengthAdjust="spacingAndGlyphs">Research and development</text>
<text x="412.8" y="361.3" font-size="12.2" fill="#747474" text-anchor="start" textLength="64.9" lengthAdjust="spacingAndGlyphs">Supply chain</text>
<text x="505.8" y="361.3" font-size="12.2" fill="#747474" text-anchor="start" textLength="139" lengthAdjust="spacingAndGlyphs">General and administrative</text>
<text x="278.7" y="401.6" font-size="14.8" fill="#85766a" text-anchor="end" textLength="56.9" lengthAdjust="spacingAndGlyphs">Enablers</text>
<text x="278.7" y="428.8" font-size="12.2" fill="#747474" text-anchor="end" textLength="173.1" lengthAdjust="spacingAndGlyphs">Streamlining the operating model</text>
<text x="278.7" y="447.47" font-size="12.2" fill="#747474" text-anchor="end" textLength="109.3" lengthAdjust="spacingAndGlyphs">Managing complexity</text>
<text x="278.7" y="466.14" font-size="12.2" fill="#747474" text-anchor="end" textLength="144.7" lengthAdjust="spacingAndGlyphs">Increasing asset productivity</text>
<text x="278.7" y="484.81" font-size="12.2" fill="#747474" text-anchor="end" textLength="87.5" lengthAdjust="spacingAndGlyphs">Allocating capital</text>
<text x="7.6" y="508.6" font-size="11" fill="#555" textLength="110" lengthAdjust="spacingAndGlyphs"><tspan font-weight="bold">Source:</tspan> BCG analysis.</text>
</svg></body></html>
